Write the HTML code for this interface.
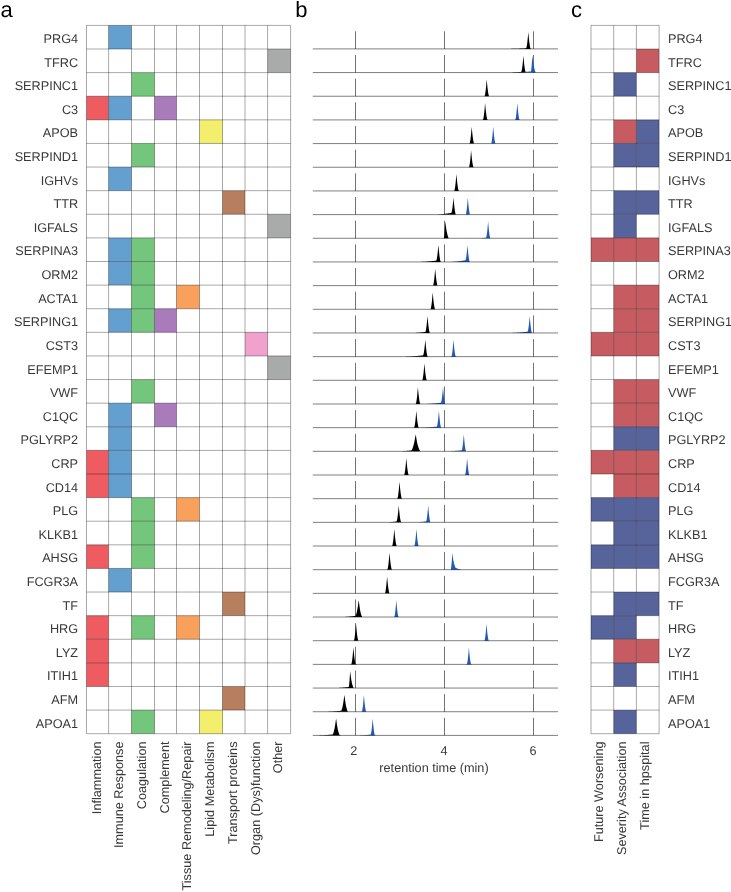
<!DOCTYPE html><html><head><meta charset="utf-8"><style>html,body{margin:0;padding:0;background:#fff;overflow:hidden;}svg{display:block;will-change:transform;}text{font-family:"Liberation Sans",sans-serif;text-rendering:geometricPrecision;}</style></head><body>
<svg width="731" height="892" viewBox="0 0 731 892">
<rect width="731" height="892" fill="#fff"/>
<g font-size="22" fill="#000"><text x="0.5" y="17">a</text><text x="295.3" y="17">b</text><text x="571" y="17">c</text></g>
<rect x="108.60" y="25.40" width="22.90" height="23.61" fill="#64a0cf"/>
<rect x="267.60" y="49.01" width="23.00" height="23.61" fill="#a9abab"/>
<rect x="131.50" y="72.62" width="23.00" height="23.61" fill="#74c67c"/>
<rect x="86.50" y="96.23" width="22.10" height="23.61" fill="#ee5b60"/>
<rect x="108.60" y="96.23" width="22.90" height="23.61" fill="#64a0cf"/>
<rect x="154.50" y="96.23" width="22.00" height="23.61" fill="#a97bbb"/>
<rect x="199.50" y="119.84" width="23.00" height="23.61" fill="#f3ee6c"/>
<rect x="131.50" y="143.45" width="23.00" height="23.61" fill="#74c67c"/>
<rect x="108.60" y="167.06" width="22.90" height="23.61" fill="#64a0cf"/>
<rect x="222.50" y="190.67" width="22.50" height="23.61" fill="#b87f5f"/>
<rect x="267.60" y="214.28" width="23.00" height="23.61" fill="#a9abab"/>
<rect x="108.60" y="237.89" width="22.90" height="23.61" fill="#64a0cf"/>
<rect x="131.50" y="237.89" width="23.00" height="23.61" fill="#74c67c"/>
<rect x="108.60" y="261.50" width="22.90" height="23.61" fill="#64a0cf"/>
<rect x="131.50" y="261.50" width="23.00" height="23.61" fill="#74c67c"/>
<rect x="131.50" y="285.11" width="23.00" height="23.61" fill="#74c67c"/>
<rect x="176.50" y="285.11" width="23.00" height="23.61" fill="#f8a05c"/>
<rect x="108.60" y="308.72" width="22.90" height="23.61" fill="#64a0cf"/>
<rect x="131.50" y="308.72" width="23.00" height="23.61" fill="#74c67c"/>
<rect x="154.50" y="308.72" width="22.00" height="23.61" fill="#a97bbb"/>
<rect x="245.00" y="332.33" width="22.60" height="23.61" fill="#f0a2cc"/>
<rect x="267.60" y="355.94" width="23.00" height="23.61" fill="#a9abab"/>
<rect x="131.50" y="379.55" width="23.00" height="23.61" fill="#74c67c"/>
<rect x="108.60" y="403.16" width="22.90" height="23.61" fill="#64a0cf"/>
<rect x="154.50" y="403.16" width="22.00" height="23.61" fill="#a97bbb"/>
<rect x="108.60" y="426.77" width="22.90" height="23.61" fill="#64a0cf"/>
<rect x="86.50" y="450.38" width="22.10" height="23.61" fill="#ee5b60"/>
<rect x="108.60" y="450.38" width="22.90" height="23.61" fill="#64a0cf"/>
<rect x="86.50" y="473.99" width="22.10" height="23.61" fill="#ee5b60"/>
<rect x="108.60" y="473.99" width="22.90" height="23.61" fill="#64a0cf"/>
<rect x="131.50" y="497.60" width="23.00" height="23.61" fill="#74c67c"/>
<rect x="176.50" y="497.60" width="23.00" height="23.61" fill="#f8a05c"/>
<rect x="131.50" y="521.21" width="23.00" height="23.61" fill="#74c67c"/>
<rect x="86.50" y="544.82" width="22.10" height="23.61" fill="#ee5b60"/>
<rect x="131.50" y="544.82" width="23.00" height="23.61" fill="#74c67c"/>
<rect x="108.60" y="568.43" width="22.90" height="23.61" fill="#64a0cf"/>
<rect x="222.50" y="592.04" width="22.50" height="23.61" fill="#b87f5f"/>
<rect x="86.50" y="615.65" width="22.10" height="23.61" fill="#ee5b60"/>
<rect x="131.50" y="615.65" width="23.00" height="23.61" fill="#74c67c"/>
<rect x="176.50" y="615.65" width="23.00" height="23.61" fill="#f8a05c"/>
<rect x="86.50" y="639.26" width="22.10" height="23.61" fill="#ee5b60"/>
<rect x="86.50" y="662.87" width="22.10" height="23.61" fill="#ee5b60"/>
<rect x="222.50" y="686.48" width="22.50" height="23.61" fill="#b87f5f"/>
<rect x="131.50" y="710.09" width="23.00" height="23.61" fill="#74c67c"/>
<rect x="199.50" y="710.09" width="23.00" height="23.61" fill="#f3ee6c"/>
<path d="M86.50,25.40 V733.70 M108.60,25.40 V733.70 M131.50,25.40 V733.70 M154.50,25.40 V733.70 M176.50,25.40 V733.70 M199.50,25.40 V733.70 M222.50,25.40 V733.70 M245.00,25.40 V733.70 M267.60,25.40 V733.70 M290.60,25.40 V733.70 M86.50,25.40 H290.60 M86.50,49.01 H290.60 M86.50,72.62 H290.60 M86.50,96.23 H290.60 M86.50,119.84 H290.60 M86.50,143.45 H290.60 M86.50,167.06 H290.60 M86.50,190.67 H290.60 M86.50,214.28 H290.60 M86.50,237.89 H290.60 M86.50,261.50 H290.60 M86.50,285.11 H290.60 M86.50,308.72 H290.60 M86.50,332.33 H290.60 M86.50,355.94 H290.60 M86.50,379.55 H290.60 M86.50,403.16 H290.60 M86.50,426.77 H290.60 M86.50,450.38 H290.60 M86.50,473.99 H290.60 M86.50,497.60 H290.60 M86.50,521.21 H290.60 M86.50,544.82 H290.60 M86.50,568.43 H290.60 M86.50,592.04 H290.60 M86.50,615.65 H290.60 M86.50,639.26 H290.60 M86.50,662.87 H290.60 M86.50,686.48 H290.60 M86.50,710.09 H290.60 M86.50,733.70 H290.60" stroke="rgba(0,0,0,0.38)" stroke-width="0.90" fill="none"/>
<rect x="636.40" y="49.01" width="22.70" height="23.61" fill="#c65c61"/>
<rect x="613.70" y="72.62" width="22.70" height="23.61" fill="#57639b"/>
<rect x="613.70" y="119.84" width="22.70" height="23.61" fill="#c65c61"/>
<rect x="636.40" y="119.84" width="22.70" height="23.61" fill="#57639b"/>
<rect x="613.70" y="143.45" width="22.70" height="23.61" fill="#57639b"/>
<rect x="636.40" y="143.45" width="22.70" height="23.61" fill="#57639b"/>
<rect x="613.70" y="190.67" width="22.70" height="23.61" fill="#57639b"/>
<rect x="636.40" y="190.67" width="22.70" height="23.61" fill="#57639b"/>
<rect x="613.70" y="214.28" width="22.70" height="23.61" fill="#57639b"/>
<rect x="591.00" y="237.89" width="22.70" height="23.61" fill="#c65c61"/>
<rect x="613.70" y="237.89" width="22.70" height="23.61" fill="#c65c61"/>
<rect x="636.40" y="237.89" width="22.70" height="23.61" fill="#c65c61"/>
<rect x="613.70" y="285.11" width="22.70" height="23.61" fill="#c65c61"/>
<rect x="636.40" y="285.11" width="22.70" height="23.61" fill="#c65c61"/>
<rect x="613.70" y="308.72" width="22.70" height="23.61" fill="#c65c61"/>
<rect x="636.40" y="308.72" width="22.70" height="23.61" fill="#c65c61"/>
<rect x="591.00" y="332.33" width="22.70" height="23.61" fill="#c65c61"/>
<rect x="613.70" y="332.33" width="22.70" height="23.61" fill="#c65c61"/>
<rect x="636.40" y="332.33" width="22.70" height="23.61" fill="#c65c61"/>
<rect x="613.70" y="379.55" width="22.70" height="23.61" fill="#c65c61"/>
<rect x="636.40" y="379.55" width="22.70" height="23.61" fill="#c65c61"/>
<rect x="613.70" y="403.16" width="22.70" height="23.61" fill="#c65c61"/>
<rect x="636.40" y="403.16" width="22.70" height="23.61" fill="#c65c61"/>
<rect x="613.70" y="426.77" width="22.70" height="23.61" fill="#57639b"/>
<rect x="636.40" y="426.77" width="22.70" height="23.61" fill="#57639b"/>
<rect x="591.00" y="450.38" width="22.70" height="23.61" fill="#c65c61"/>
<rect x="613.70" y="450.38" width="22.70" height="23.61" fill="#c65c61"/>
<rect x="636.40" y="450.38" width="22.70" height="23.61" fill="#c65c61"/>
<rect x="613.70" y="473.99" width="22.70" height="23.61" fill="#c65c61"/>
<rect x="636.40" y="473.99" width="22.70" height="23.61" fill="#c65c61"/>
<rect x="591.00" y="497.60" width="22.70" height="23.61" fill="#57639b"/>
<rect x="613.70" y="497.60" width="22.70" height="23.61" fill="#57639b"/>
<rect x="636.40" y="497.60" width="22.70" height="23.61" fill="#57639b"/>
<rect x="613.70" y="521.21" width="22.70" height="23.61" fill="#57639b"/>
<rect x="636.40" y="521.21" width="22.70" height="23.61" fill="#57639b"/>
<rect x="591.00" y="544.82" width="22.70" height="23.61" fill="#57639b"/>
<rect x="613.70" y="544.82" width="22.70" height="23.61" fill="#57639b"/>
<rect x="636.40" y="544.82" width="22.70" height="23.61" fill="#57639b"/>
<rect x="613.70" y="592.04" width="22.70" height="23.61" fill="#57639b"/>
<rect x="636.40" y="592.04" width="22.70" height="23.61" fill="#57639b"/>
<rect x="591.00" y="615.65" width="22.70" height="23.61" fill="#57639b"/>
<rect x="613.70" y="615.65" width="22.70" height="23.61" fill="#57639b"/>
<rect x="613.70" y="639.26" width="22.70" height="23.61" fill="#c65c61"/>
<rect x="636.40" y="639.26" width="22.70" height="23.61" fill="#c65c61"/>
<rect x="613.70" y="662.87" width="22.70" height="23.61" fill="#57639b"/>
<rect x="613.70" y="710.09" width="22.70" height="23.61" fill="#57639b"/>
<path d="M591.00,25.40 V733.70 M613.70,25.40 V733.70 M636.40,25.40 V733.70 M659.10,25.40 V733.70 M591.00,25.40 H659.10 M591.00,49.01 H659.10 M591.00,72.62 H659.10 M591.00,96.23 H659.10 M591.00,119.84 H659.10 M591.00,143.45 H659.10 M591.00,167.06 H659.10 M591.00,190.67 H659.10 M591.00,214.28 H659.10 M591.00,237.89 H659.10 M591.00,261.50 H659.10 M591.00,285.11 H659.10 M591.00,308.72 H659.10 M591.00,332.33 H659.10 M591.00,355.94 H659.10 M591.00,379.55 H659.10 M591.00,403.16 H659.10 M591.00,426.77 H659.10 M591.00,450.38 H659.10 M591.00,473.99 H659.10 M591.00,497.60 H659.10 M591.00,521.21 H659.10 M591.00,544.82 H659.10 M591.00,568.43 H659.10 M591.00,592.04 H659.10 M591.00,615.65 H659.10 M591.00,639.26 H659.10 M591.00,662.87 H659.10 M591.00,686.48 H659.10 M591.00,710.09 H659.10 M591.00,733.70 H659.10" stroke="rgba(0,0,0,0.38)" stroke-width="0.90" fill="none"/>
<g font-size="12.70" fill="#383838">
<text x="78.1" y="42.95" text-anchor="end">PRG4</text>
<text x="668" y="42.95">PRG4</text>
<text x="78.1" y="66.56" text-anchor="end">TFRC</text>
<text x="668" y="66.56">TFRC</text>
<text x="78.1" y="90.18" text-anchor="end">SERPINC1</text>
<text x="668" y="90.18">SERPINC1</text>
<text x="78.1" y="113.78" text-anchor="end">C3</text>
<text x="668" y="113.78">C3</text>
<text x="78.1" y="137.40" text-anchor="end">APOB</text>
<text x="668" y="137.40">APOB</text>
<text x="78.1" y="161.01" text-anchor="end">SERPIND1</text>
<text x="668" y="161.01">SERPIND1</text>
<text x="78.1" y="184.62" text-anchor="end">IGHVs</text>
<text x="668" y="184.62">IGHVs</text>
<text x="78.1" y="208.23" text-anchor="end">TTR</text>
<text x="668" y="208.23">TTR</text>
<text x="78.1" y="231.84" text-anchor="end">IGFALS</text>
<text x="668" y="231.84">IGFALS</text>
<text x="78.1" y="255.45" text-anchor="end">SERPINA3</text>
<text x="668" y="255.45">SERPINA3</text>
<text x="78.1" y="279.06" text-anchor="end">ORM2</text>
<text x="668" y="279.06">ORM2</text>
<text x="78.1" y="302.67" text-anchor="end">ACTA1</text>
<text x="668" y="302.67">ACTA1</text>
<text x="78.1" y="326.28" text-anchor="end">SERPING1</text>
<text x="668" y="326.28">SERPING1</text>
<text x="78.1" y="349.88" text-anchor="end">CST3</text>
<text x="668" y="349.88">CST3</text>
<text x="78.1" y="373.50" text-anchor="end">EFEMP1</text>
<text x="668" y="373.50">EFEMP1</text>
<text x="78.1" y="397.11" text-anchor="end">VWF</text>
<text x="668" y="397.11">VWF</text>
<text x="78.1" y="420.72" text-anchor="end">C1QC</text>
<text x="668" y="420.72">C1QC</text>
<text x="78.1" y="444.33" text-anchor="end">PGLYRP2</text>
<text x="668" y="444.33">PGLYRP2</text>
<text x="78.1" y="467.94" text-anchor="end">CRP</text>
<text x="668" y="467.94">CRP</text>
<text x="78.1" y="491.55" text-anchor="end">CD14</text>
<text x="668" y="491.55">CD14</text>
<text x="78.1" y="515.15" text-anchor="end">PLG</text>
<text x="668" y="515.15">PLG</text>
<text x="78.1" y="538.77" text-anchor="end">KLKB1</text>
<text x="668" y="538.77">KLKB1</text>
<text x="78.1" y="562.38" text-anchor="end">AHSG</text>
<text x="668" y="562.38">AHSG</text>
<text x="78.1" y="585.99" text-anchor="end">FCGR3A</text>
<text x="668" y="585.99">FCGR3A</text>
<text x="78.1" y="609.60" text-anchor="end">TF</text>
<text x="668" y="609.60">TF</text>
<text x="78.1" y="633.21" text-anchor="end">HRG</text>
<text x="668" y="633.21">HRG</text>
<text x="78.1" y="656.82" text-anchor="end">LYZ</text>
<text x="668" y="656.82">LYZ</text>
<text x="78.1" y="680.43" text-anchor="end">ITIH1</text>
<text x="668" y="680.43">ITIH1</text>
<text x="78.1" y="704.04" text-anchor="end">AFM</text>
<text x="668" y="704.04">AFM</text>
<text x="78.1" y="727.65" text-anchor="end">APOA1</text>
<text x="668" y="727.65">APOA1</text>
</g>
<g font-size="12.70" fill="#383838">
<text transform="translate(100.85,741.5) rotate(-90)" text-anchor="end">Inflammation</text>
<text transform="translate(123.35,741.5) rotate(-90)" text-anchor="end">Immune Response</text>
<text transform="translate(146.30,741.5) rotate(-90)" text-anchor="end">Coagulation</text>
<text transform="translate(168.80,741.5) rotate(-90)" text-anchor="end">Complement</text>
<text transform="translate(191.30,741.5) rotate(-90)" text-anchor="end">Tissue Remodeling/Repair</text>
<text transform="translate(214.30,741.5) rotate(-90)" text-anchor="end">Lipid Metabolism</text>
<text transform="translate(237.05,741.5) rotate(-90)" text-anchor="end">Transport proteins</text>
<text transform="translate(259.60,741.5) rotate(-90)" text-anchor="end">Organ (Dys)function</text>
<text transform="translate(282.40,741.5) rotate(-90)" text-anchor="end">Other</text>
<text transform="translate(603.35,741.5) rotate(-90)" text-anchor="end">Future Worsening</text>
<text transform="translate(626.05,741.5) rotate(-90)" text-anchor="end">Severity Association</text>
<text transform="translate(648.75,741.5) rotate(-90)" text-anchor="end">Time in hpspital</text>
</g>
<path d="M355.50,31.30 V48.90 M444.50,31.30 V48.90 M533.50,31.30 V48.90 M355.50,54.97 V72.57 M444.50,54.97 V72.57 M533.50,54.97 V72.57 M355.50,78.64 V96.24 M444.50,78.64 V96.24 M533.50,78.64 V96.24 M355.50,102.32 V119.92 M444.50,102.32 V119.92 M533.50,102.32 V119.92 M355.50,125.99 V143.59 M444.50,125.99 V143.59 M533.50,125.99 V143.59 M355.50,149.66 V167.26 M444.50,149.66 V167.26 M533.50,149.66 V167.26 M355.50,173.33 V190.93 M444.50,173.33 V190.93 M533.50,173.33 V190.93 M355.50,197.01 V214.61 M444.50,197.01 V214.61 M533.50,197.01 V214.61 M355.50,220.68 V238.28 M444.50,220.68 V238.28 M533.50,220.68 V238.28 M355.50,244.35 V261.95 M444.50,244.35 V261.95 M533.50,244.35 V261.95 M355.50,268.02 V285.62 M444.50,268.02 V285.62 M533.50,268.02 V285.62 M355.50,291.70 V309.30 M444.50,291.70 V309.30 M533.50,291.70 V309.30 M355.50,315.37 V332.97 M444.50,315.37 V332.97 M533.50,315.37 V332.97 M355.50,339.04 V356.64 M444.50,339.04 V356.64 M533.50,339.04 V356.64 M355.50,362.71 V380.31 M444.50,362.71 V380.31 M533.50,362.71 V380.31 M355.50,386.39 V403.99 M444.50,386.39 V403.99 M533.50,386.39 V403.99 M355.50,410.06 V427.66 M444.50,410.06 V427.66 M533.50,410.06 V427.66 M355.50,433.73 V451.33 M444.50,433.73 V451.33 M533.50,433.73 V451.33 M355.50,457.40 V475.00 M444.50,457.40 V475.00 M533.50,457.40 V475.00 M355.50,481.08 V498.68 M444.50,481.08 V498.68 M533.50,481.08 V498.68 M355.50,504.75 V522.35 M444.50,504.75 V522.35 M533.50,504.75 V522.35 M355.50,528.42 V546.02 M444.50,528.42 V546.02 M533.50,528.42 V546.02 M355.50,552.09 V569.69 M444.50,552.09 V569.69 M533.50,552.09 V569.69 M355.50,575.77 V593.37 M444.50,575.77 V593.37 M533.50,575.77 V593.37 M355.50,599.44 V617.04 M444.50,599.44 V617.04 M533.50,599.44 V617.04 M355.50,623.11 V640.71 M444.50,623.11 V640.71 M533.50,623.11 V640.71 M355.50,646.78 V664.38 M444.50,646.78 V664.38 M533.50,646.78 V664.38 M355.50,670.46 V688.06 M444.50,670.46 V688.06 M533.50,670.46 V688.06 M355.50,694.13 V711.73 M444.50,694.13 V711.73 M533.50,694.13 V711.73 M355.50,717.80 V735.40 M444.50,717.80 V735.40 M533.50,717.80 V735.40" stroke="rgba(0,0,0,0.55)" stroke-width="1" fill="none"/>
<path d="M509.00,48.90 L509.00,48.90 L509.20,48.90 L509.40,48.90 L509.60,48.90 L509.80,48.89 L509.99,48.89 L510.19,48.89 L510.39,48.89 L510.59,48.88 L510.79,48.88 L510.99,48.88 L511.19,48.87 L511.39,48.87 L511.58,48.87 L511.78,48.86 L511.98,48.86 L512.18,48.85 L512.38,48.85 L512.58,48.84 L512.78,48.84 L512.98,48.83 L513.17,48.83 L513.37,48.82 L513.57,48.82 L513.77,48.81 L513.97,48.81 L514.17,48.80 L514.37,48.80 L514.57,48.79 L514.77,48.79 L514.96,48.78 L515.16,48.77 L515.36,48.77 L515.56,48.76 L515.76,48.75 L515.96,48.75 L516.16,48.74 L516.36,48.74 L516.55,48.73 L516.75,48.72 L516.95,48.71 L517.15,48.71 L517.35,48.70 L517.55,48.69 L517.75,48.69 L517.95,48.68 L518.14,48.67 L518.34,48.66 L518.54,48.66 L518.74,48.65 L518.94,48.64 L519.14,48.63 L519.34,48.63 L519.54,48.62 L519.74,48.61 L519.93,48.60 L520.13,48.59 L520.33,48.59 L520.53,48.58 L520.73,48.57 L520.93,48.56 L521.13,48.55 L521.33,48.54 L521.52,48.53 L521.72,48.53 L521.92,48.52 L522.12,48.51 L522.32,48.50 L522.52,48.49 L522.72,48.48 L522.92,48.47 L523.12,48.46 L523.31,48.45 L523.51,48.44 L523.71,48.43 L523.91,48.42 L524.11,48.42 L524.31,48.41 L524.51,48.40 L524.71,48.39 L524.90,48.37 L525.10,48.36 L525.30,48.34 L525.50,48.32 L525.70,48.30 L525.90,48.27 L526.10,48.24 L526.30,47.94 L526.49,47.24 L526.69,46.31 L526.89,45.19 L527.09,43.88 L527.29,42.40 L527.49,40.72 L527.69,38.82 L527.89,36.68 L528.09,34.39 L528.28,32.17 L528.30,32.00 L528.48,33.90 L528.68,36.08 L528.88,38.18 L529.08,40.09 L529.28,41.81 L529.48,43.35 L529.68,44.74 L529.87,45.95 L530.07,46.95 L530.27,47.79 L530.47,48.44 L530.67,48.82 L530.87,48.84 L531.07,48.85 L531.27,48.87 L531.46,48.88 L531.66,48.88 L531.86,48.89 L532.06,48.90 L532.26,48.90 L532.26,48.90 Z" fill="#000"/>
<path d="M505.00,72.57 L505.00,72.57 L505.20,72.57 L505.40,72.57 L505.60,72.57 L505.80,72.57 L506.00,72.56 L506.20,72.56 L506.40,72.56 L506.60,72.55 L506.80,72.55 L507.00,72.54 L507.20,72.54 L507.40,72.53 L507.60,72.53 L507.80,72.53 L507.99,72.52 L508.19,72.51 L508.39,72.51 L508.59,72.50 L508.79,72.50 L508.99,72.49 L509.19,72.49 L509.39,72.48 L509.59,72.47 L509.79,72.47 L509.99,72.46 L510.19,72.45 L510.39,72.45 L510.59,72.44 L510.79,72.43 L510.99,72.42 L511.19,72.42 L511.39,72.41 L511.59,72.40 L511.79,72.39 L511.99,72.39 L512.19,72.38 L512.39,72.37 L512.59,72.36 L512.79,72.35 L512.99,72.34 L513.19,72.34 L513.38,72.33 L513.58,72.32 L513.78,72.31 L513.98,72.30 L514.18,72.29 L514.38,72.28 L514.58,72.27 L514.78,72.26 L514.98,72.25 L515.18,72.24 L515.38,72.23 L515.58,72.22 L515.78,72.21 L515.98,72.20 L516.18,72.19 L516.38,72.18 L516.58,72.17 L516.78,72.16 L516.98,72.15 L517.18,72.14 L517.38,72.13 L517.58,72.12 L517.78,72.11 L517.98,72.10 L518.18,72.09 L518.38,72.08 L518.58,72.07 L518.78,72.05 L518.98,72.04 L519.17,72.03 L519.37,72.02 L519.57,72.01 L519.77,72.00 L519.97,71.98 L520.17,71.96 L520.37,71.94 L520.57,71.92 L520.77,71.90 L520.97,71.87 L521.17,71.84 L521.37,71.60 L521.57,70.94 L521.77,70.03 L521.97,68.93 L522.17,67.64 L522.37,66.18 L522.57,64.52 L522.77,62.65 L522.97,60.54 L523.17,58.25 L523.37,56.01 L523.40,55.67 L523.57,57.40 L523.77,59.59 L523.97,61.71 L524.17,63.64 L524.37,65.38 L524.57,66.95 L524.76,68.36 L524.96,69.59 L525.16,70.60 L525.36,71.44 L525.56,72.10 L525.76,72.49 L525.96,72.51 L526.16,72.53 L526.36,72.54 L526.56,72.55 L526.76,72.56 L526.96,72.56 L527.16,72.57 L527.36,72.57 L527.36,72.57 Z" fill="#000"/>
<path d="M506.00,72.57 L506.00,72.57 L506.20,72.57 L506.40,72.57 L506.60,72.57 L506.80,72.57 L507.00,72.56 L507.20,72.56 L507.40,72.56 L507.60,72.55 L507.79,72.55 L507.99,72.55 L508.19,72.54 L508.39,72.54 L508.59,72.54 L508.79,72.53 L508.99,72.53 L509.19,72.52 L509.39,72.52 L509.59,72.51 L509.79,72.51 L509.99,72.50 L510.19,72.50 L510.39,72.49 L510.59,72.49 L510.79,72.48 L510.98,72.47 L511.18,72.47 L511.38,72.46 L511.58,72.46 L511.78,72.45 L511.98,72.44 L512.18,72.44 L512.38,72.43 L512.58,72.42 L512.78,72.42 L512.98,72.41 L513.18,72.40 L513.38,72.39 L513.58,72.39 L513.78,72.38 L513.98,72.37 L514.17,72.36 L514.37,72.36 L514.57,72.35 L514.77,72.34 L514.97,72.33 L515.17,72.33 L515.37,72.32 L515.57,72.31 L515.77,72.30 L515.97,72.29 L516.17,72.28 L516.37,72.28 L516.57,72.27 L516.77,72.26 L516.97,72.25 L517.17,72.24 L517.36,72.23 L517.56,72.22 L517.76,72.21 L517.96,72.20 L518.16,72.20 L518.36,72.19 L518.56,72.18 L518.76,72.17 L518.96,72.16 L519.16,72.15 L519.36,72.14 L519.56,72.13 L519.76,72.12 L519.96,72.11 L520.16,72.10 L520.36,72.09 L520.55,72.08 L520.75,72.07 L520.95,72.06 L521.15,72.05 L521.35,72.04 L521.55,72.03 L521.75,72.02 L521.95,72.01 L522.15,71.99 L522.35,71.98 L522.55,71.97 L522.75,71.96 L522.95,71.95 L523.15,71.94 L523.35,71.93 L523.55,71.92 L523.75,71.91 L523.94,71.90 L524.14,71.88 L524.34,71.87 L524.54,71.86 L524.74,71.85 L524.94,71.84 L525.14,71.83 L525.34,71.82 L525.54,71.80 L525.74,71.79 L525.94,71.78 L526.14,71.77 L526.34,71.76 L526.54,71.74 L526.74,71.73 L526.94,71.72 L527.13,71.71 L527.33,71.70 L527.53,71.68 L527.73,71.67 L527.93,71.66 L528.13,71.65 L528.33,71.63 L528.53,71.62 L528.73,71.61 L528.93,71.60 L529.13,71.58 L529.33,71.57 L529.53,71.56 L529.73,71.54 L529.93,71.53 L530.13,71.52 L530.32,71.49 L530.52,71.47 L530.72,71.44 L530.92,71.39 L531.12,70.73 L531.32,69.32 L531.52,67.43 L531.72,65.09 L531.92,62.23 L532.12,58.82 L532.30,55.67 L532.32,55.80 L532.52,57.21 L532.72,58.71 L532.92,60.20 L533.12,61.65 L533.32,63.03 L533.51,64.32 L533.71,65.53 L533.91,66.57 L534.11,67.47 L534.31,68.31 L534.51,69.09 L534.71,69.80 L534.91,70.45 L535.11,71.04 L535.31,71.55 L535.51,71.98 L535.71,72.32 L535.91,72.50 L536.11,72.51 L536.31,72.52 L536.51,72.53 L536.70,72.54 L536.90,72.54 L537.10,72.55 L537.30,72.55 L537.50,72.56 L537.70,72.56 L537.90,72.57 L538.10,72.57 L538.30,72.57 L538.30,72.57 Z" fill="#2358b4"/>
<path d="M483.10,96.24 L483.10,96.24 L483.30,96.24 L483.50,96.23 L483.70,96.23 L483.90,96.22 L484.09,96.20 L484.29,96.19 L484.49,96.17 L484.69,95.87 L484.89,95.16 L485.09,94.21 L485.29,93.05 L485.49,91.70 L485.69,90.16 L485.89,88.42 L486.08,86.46 L486.28,84.25 L486.48,81.86 L486.68,79.55 L486.70,79.34 L486.88,81.21 L487.08,83.39 L487.28,85.48 L487.48,87.38 L487.68,89.08 L487.87,90.60 L488.07,91.96 L488.27,93.16 L488.47,94.21 L488.67,95.08 L488.87,95.77 L489.07,96.16 L489.27,96.18 L489.47,96.20 L489.67,96.21 L489.86,96.22 L490.06,96.23 L490.26,96.24 L490.46,96.24 L490.66,96.24 L490.66,96.24 Z" fill="#000"/>
<path d="M481.50,119.92 L481.50,119.92 L481.70,119.91 L481.90,119.91 L482.10,119.90 L482.30,119.89 L482.49,119.88 L482.69,119.86 L482.89,119.84 L483.09,119.54 L483.29,118.83 L483.49,117.88 L483.69,116.72 L483.89,115.37 L484.09,113.84 L484.29,112.10 L484.48,110.13 L484.68,107.92 L484.88,105.53 L485.08,103.22 L485.10,103.02 L485.28,104.88 L485.48,107.06 L485.68,109.15 L485.88,111.05 L486.08,112.75 L486.27,114.27 L486.47,115.63 L486.67,116.83 L486.87,117.88 L487.07,118.76 L487.27,119.44 L487.47,119.83 L487.67,119.85 L487.87,119.87 L488.07,119.88 L488.26,119.89 L488.46,119.90 L488.66,119.91 L488.86,119.91 L489.06,119.92 L489.06,119.92 Z" fill="#000"/>
<path d="M513.90,119.92 L513.90,119.92 L514.10,119.91 L514.30,119.91 L514.50,119.90 L514.69,119.89 L514.89,119.87 L515.09,119.85 L515.29,119.81 L515.49,119.26 L515.68,118.38 L515.88,117.26 L516.08,115.92 L516.28,114.37 L516.48,112.60 L516.68,110.59 L516.88,108.30 L517.07,105.80 L517.27,103.34 L517.30,103.02 L517.47,104.88 L517.67,107.18 L517.87,109.38 L518.06,111.35 L518.26,113.11 L518.46,114.67 L518.66,116.05 L518.86,117.26 L519.06,118.29 L519.25,119.13 L519.45,119.70 L519.65,119.85 L519.85,119.86 L520.05,119.88 L520.25,119.89 L520.44,119.90 L520.64,119.91 L520.84,119.91 L521.04,119.92 L521.04,119.92 Z" fill="#2358b4"/>
<path d="M468.10,143.59 L468.10,143.59 L468.30,143.58 L468.50,143.58 L468.70,143.57 L468.90,143.56 L469.09,143.55 L469.29,143.53 L469.49,143.51 L469.69,143.22 L469.89,142.51 L470.09,141.55 L470.29,140.39 L470.49,139.04 L470.69,137.51 L470.89,135.77 L471.08,133.80 L471.28,131.59 L471.48,129.20 L471.68,126.89 L471.70,126.69 L471.88,128.55 L472.08,130.73 L472.28,132.83 L472.48,134.73 L472.68,136.43 L472.87,137.95 L473.07,139.30 L473.27,140.50 L473.47,141.55 L473.67,142.43 L473.87,143.11 L474.07,143.50 L474.27,143.53 L474.47,143.54 L474.67,143.55 L474.86,143.57 L475.06,143.57 L475.26,143.58 L475.46,143.59 L475.66,143.59 L475.66,143.59 Z" fill="#000"/>
<path d="M489.80,143.59 L489.80,143.59 L490.00,143.58 L490.20,143.58 L490.39,143.57 L490.59,143.56 L490.79,143.54 L490.99,143.53 L491.19,143.48 L491.39,142.94 L491.59,142.06 L491.78,140.93 L491.98,139.59 L492.18,138.04 L492.38,136.27 L492.58,134.26 L492.77,131.97 L492.97,129.47 L493.17,127.01 L493.20,126.69 L493.37,128.55 L493.57,130.85 L493.77,133.05 L493.97,135.02 L494.16,136.78 L494.36,138.34 L494.56,139.72 L494.76,140.93 L494.96,141.96 L495.15,142.80 L495.35,143.38 L495.55,143.52 L495.75,143.54 L495.95,143.55 L496.15,143.56 L496.35,143.57 L496.54,143.58 L496.74,143.58 L496.94,143.59 L496.94,143.59 Z" fill="#2358b4"/>
<path d="M467.50,167.26 L467.50,167.26 L467.70,167.26 L467.90,167.25 L468.10,167.24 L468.30,167.23 L468.49,167.22 L468.69,167.21 L468.89,167.18 L469.09,166.89 L469.29,166.18 L469.49,165.22 L469.69,164.06 L469.89,162.72 L470.09,161.18 L470.29,159.44 L470.48,157.47 L470.68,155.26 L470.88,152.88 L471.08,150.57 L471.10,150.36 L471.28,152.22 L471.48,154.41 L471.68,156.50 L471.88,158.40 L472.08,160.10 L472.27,161.62 L472.47,162.97 L472.67,164.18 L472.87,165.22 L473.07,166.10 L473.27,166.78 L473.47,167.17 L473.67,167.20 L473.87,167.21 L474.07,167.23 L474.26,167.24 L474.46,167.25 L474.66,167.25 L474.86,167.26 L475.06,167.26 L475.06,167.26 Z" fill="#000"/>
<path d="M452.80,190.93 L452.80,190.93 L453.00,190.93 L453.20,190.92 L453.40,190.92 L453.60,190.91 L453.79,190.89 L453.99,190.88 L454.19,190.86 L454.39,190.56 L454.59,189.85 L454.79,188.90 L454.99,187.74 L455.19,186.39 L455.39,184.85 L455.59,183.11 L455.78,181.15 L455.98,178.93 L456.18,176.55 L456.38,174.24 L456.40,174.03 L456.58,175.90 L456.78,178.08 L456.98,180.17 L457.18,182.07 L457.38,183.77 L457.57,185.29 L457.77,186.65 L457.97,187.85 L458.17,188.90 L458.37,189.77 L458.57,190.45 L458.77,190.85 L458.97,190.87 L459.17,190.89 L459.37,190.90 L459.56,190.91 L459.76,190.92 L459.96,190.92 L460.16,190.93 L460.36,190.93 L460.36,190.93 Z" fill="#000"/>
<path d="M433.60,214.61 L433.60,214.61 L433.80,214.60 L434.00,214.60 L434.20,214.60 L434.40,214.59 L434.59,214.58 L434.79,214.58 L434.99,214.57 L435.19,214.56 L435.39,214.55 L435.59,214.54 L435.79,214.53 L435.99,214.52 L436.18,214.51 L436.38,214.50 L436.58,214.49 L436.78,214.48 L436.98,214.47 L437.18,214.45 L437.38,214.44 L437.58,214.43 L437.78,214.41 L437.97,214.40 L438.17,214.39 L438.37,214.37 L438.57,214.36 L438.77,214.34 L438.97,214.33 L439.17,214.31 L439.37,214.29 L439.56,214.28 L439.76,214.26 L439.96,214.25 L440.16,214.23 L440.36,214.21 L440.56,214.19 L440.76,214.18 L440.96,214.16 L441.16,214.14 L441.35,214.12 L441.55,214.10 L441.75,214.08 L441.95,214.06 L442.15,214.04 L442.35,214.02 L442.55,214.00 L442.75,213.98 L442.95,213.96 L443.14,213.94 L443.34,213.92 L443.54,213.90 L443.74,213.88 L443.94,213.86 L444.14,213.84 L444.34,213.81 L444.54,213.79 L444.73,213.77 L444.93,213.75 L445.13,213.72 L445.33,213.70 L445.53,213.68 L445.73,213.66 L445.93,213.63 L446.13,213.61 L446.33,213.58 L446.52,213.56 L446.72,213.54 L446.92,213.51 L447.12,213.49 L447.32,213.46 L447.52,213.44 L447.72,213.41 L447.92,213.39 L448.11,213.36 L448.31,213.34 L448.51,213.31 L448.71,213.28 L448.91,213.26 L449.11,213.23 L449.31,213.20 L449.51,213.18 L449.71,213.15 L449.90,213.12 L450.10,213.09 L450.30,213.06 L450.50,213.02 L450.70,212.99 L450.90,212.95 L451.10,212.91 L451.30,212.86 L451.50,212.56 L451.69,211.91 L451.89,211.03 L452.09,209.98 L452.29,208.76 L452.49,207.37 L452.69,205.81 L452.89,204.05 L453.09,202.06 L453.28,199.93 L453.48,197.87 L453.50,197.71 L453.68,199.61 L453.88,201.80 L454.08,203.91 L454.28,205.85 L454.48,207.61 L454.68,209.21 L454.88,210.67 L455.07,211.89 L455.27,212.82 L455.47,213.59 L455.67,214.19 L455.87,214.53 L456.07,214.55 L456.27,214.56 L456.47,214.58 L456.66,214.59 L456.86,214.59 L457.06,214.60 L457.26,214.60 L457.46,214.61 L457.46,214.61 Z" fill="#000"/>
<path d="M464.40,214.61 L464.40,214.61 L464.60,214.60 L464.80,214.60 L465.00,214.59 L465.19,214.58 L465.39,214.56 L465.59,214.54 L465.79,214.50 L465.99,213.95 L466.19,213.07 L466.38,211.95 L466.58,210.61 L466.78,209.06 L466.98,207.29 L467.18,205.28 L467.38,202.99 L467.57,200.49 L467.77,198.03 L467.80,197.71 L467.97,199.57 L468.17,201.87 L468.37,204.06 L468.57,206.04 L468.76,207.80 L468.96,209.36 L469.16,210.74 L469.36,211.95 L469.56,212.98 L469.75,213.81 L469.95,214.39 L470.15,214.54 L470.35,214.55 L470.55,214.57 L470.75,214.58 L470.95,214.59 L471.14,214.60 L471.34,214.60 L471.54,214.61 L471.54,214.61 Z" fill="#2358b4"/>
<path d="M442.95,238.28 L442.95,238.28 L443.15,238.27 L443.34,238.26 L443.54,238.24 L443.74,238.22 L443.93,237.96 L444.13,236.77 L444.32,235.01 L444.52,232.78 L444.72,230.05 L444.91,226.75 L445.11,222.99 L445.20,221.38 L445.31,222.09 L445.50,223.46 L445.70,224.89 L445.90,226.29 L446.09,227.63 L446.29,228.88 L446.49,230.05 L446.68,231.14 L446.88,232.14 L447.07,233.08 L447.27,233.95 L447.47,234.75 L447.66,235.49 L447.86,236.17 L448.06,236.77 L448.25,237.29 L448.45,237.73 L448.65,238.06 L448.84,238.20 L449.04,238.21 L449.24,238.22 L449.43,238.23 L449.63,238.24 L449.82,238.25 L450.02,238.26 L450.22,238.26 L450.41,238.27 L450.61,238.27 L450.81,238.27 L451.00,238.28 L451.20,238.28 L451.20,238.28 Z" fill="#000"/>
<path d="M478.00,238.28 L478.00,238.28 L478.20,238.28 L478.40,238.27 L478.59,238.27 L478.79,238.26 L478.99,238.25 L479.19,238.25 L479.38,238.24 L479.58,238.23 L479.78,238.22 L479.98,238.21 L480.17,238.20 L480.37,238.19 L480.57,238.18 L480.77,238.16 L480.97,238.15 L481.16,238.14 L481.36,238.13 L481.56,238.11 L481.76,238.10 L481.95,238.08 L482.15,238.07 L482.35,238.05 L482.55,238.04 L482.75,238.02 L482.94,238.01 L483.14,237.99 L483.34,237.97 L483.54,237.95 L483.73,237.94 L483.93,237.92 L484.13,237.90 L484.33,237.88 L484.52,237.86 L484.72,237.84 L484.92,237.82 L485.12,237.79 L485.32,237.77 L485.51,237.74 L485.71,237.70 L485.91,237.66 L486.11,237.57 L486.30,237.00 L486.50,236.12 L486.70,235.01 L486.90,233.70 L487.09,232.19 L487.29,230.47 L487.49,228.52 L487.69,226.31 L487.89,223.90 L488.08,221.56 L488.10,221.38 L488.28,223.37 L488.48,225.66 L488.68,227.84 L488.87,229.81 L489.07,231.58 L489.27,233.16 L489.47,234.57 L489.67,235.78 L489.86,236.76 L490.06,237.54 L490.26,238.09 L490.46,238.21 L490.65,238.23 L490.85,238.24 L491.05,238.25 L491.25,238.26 L491.44,238.27 L491.64,238.27 L491.84,238.28 L491.84,238.28 Z" fill="#2358b4"/>
<path d="M419.00,261.95 L419.00,261.95 L419.20,261.95 L419.40,261.95 L419.60,261.94 L419.80,261.94 L420.00,261.93 L420.20,261.93 L420.40,261.92 L420.60,261.92 L420.80,261.91 L421.00,261.90 L421.20,261.89 L421.40,261.89 L421.60,261.88 L421.80,261.87 L421.99,261.86 L422.19,261.85 L422.39,261.84 L422.59,261.83 L422.79,261.82 L422.99,261.81 L423.19,261.80 L423.39,261.79 L423.59,261.78 L423.79,261.77 L423.99,261.76 L424.19,261.74 L424.39,261.73 L424.59,261.72 L424.79,261.71 L424.99,261.69 L425.19,261.68 L425.39,261.67 L425.59,261.65 L425.79,261.64 L425.99,261.63 L426.19,261.61 L426.39,261.60 L426.59,261.58 L426.79,261.57 L426.99,261.56 L427.19,261.54 L427.39,261.53 L427.59,261.51 L427.78,261.49 L427.98,261.48 L428.18,261.46 L428.38,261.45 L428.58,261.43 L428.78,261.41 L428.98,261.40 L429.18,261.38 L429.38,261.36 L429.58,261.35 L429.78,261.33 L429.98,261.31 L430.18,261.30 L430.38,261.28 L430.58,261.26 L430.78,261.24 L430.98,261.22 L431.18,261.21 L431.38,261.19 L431.58,261.17 L431.78,261.15 L431.98,261.13 L432.18,261.11 L432.38,261.09 L432.58,261.07 L432.78,261.05 L432.98,261.03 L433.18,261.01 L433.38,260.99 L433.58,260.97 L433.77,260.95 L433.97,260.93 L434.17,260.91 L434.37,260.89 L434.57,260.87 L434.77,260.85 L434.97,260.83 L435.17,260.80 L435.37,260.77 L435.57,260.74 L435.77,260.71 L435.97,260.67 L436.17,260.63 L436.37,260.39 L436.57,259.75 L436.77,258.88 L436.97,257.81 L437.17,256.57 L437.37,255.16 L437.57,253.56 L437.77,251.76 L437.97,249.73 L438.17,247.53 L438.37,245.38 L438.40,245.05 L438.57,246.78 L438.77,248.98 L438.97,251.10 L439.17,253.05 L439.37,254.81 L439.56,256.41 L439.76,257.86 L439.96,259.10 L440.16,260.06 L440.36,260.87 L440.56,261.50 L440.76,261.87 L440.96,261.89 L441.16,261.91 L441.36,261.92 L441.56,261.93 L441.76,261.94 L441.96,261.94 L442.16,261.95 L442.36,261.95 L442.36,261.95 Z" fill="#000"/>
<path d="M449.60,261.95 L449.60,261.95 L449.80,261.95 L450.00,261.95 L450.20,261.94 L450.39,261.93 L450.59,261.93 L450.79,261.92 L450.99,261.91 L451.19,261.90 L451.39,261.89 L451.59,261.88 L451.78,261.87 L451.98,261.85 L452.18,261.84 L452.38,261.83 L452.58,261.82 L452.78,261.80 L452.98,261.79 L453.17,261.77 L453.37,261.76 L453.57,261.74 L453.77,261.73 L453.97,261.71 L454.17,261.69 L454.36,261.68 L454.56,261.66 L454.76,261.64 L454.96,261.62 L455.16,261.61 L455.36,261.59 L455.56,261.57 L455.75,261.55 L455.95,261.53 L456.15,261.51 L456.35,261.49 L456.55,261.47 L456.75,261.45 L456.95,261.43 L457.14,261.40 L457.34,261.38 L457.54,261.36 L457.74,261.34 L457.94,261.32 L458.14,261.29 L458.34,261.27 L458.53,261.25 L458.73,261.22 L458.93,261.20 L459.13,261.17 L459.33,261.15 L459.53,261.13 L459.73,261.10 L459.92,261.08 L460.12,261.05 L460.32,261.02 L460.52,261.00 L460.72,260.97 L460.92,260.95 L461.11,260.92 L461.31,260.89 L461.51,260.87 L461.71,260.84 L461.91,260.81 L462.11,260.78 L462.31,260.76 L462.50,260.73 L462.70,260.70 L462.90,260.67 L463.10,260.64 L463.30,260.61 L463.50,260.58 L463.70,260.55 L463.89,260.52 L464.09,260.49 L464.29,260.46 L464.49,260.42 L464.69,260.39 L464.89,260.35 L465.09,260.30 L465.28,260.26 L465.48,260.19 L465.68,259.69 L465.88,258.89 L466.08,257.87 L466.28,256.66 L466.48,255.26 L466.67,253.68 L466.87,251.87 L467.07,249.83 L467.27,247.59 L467.47,245.38 L467.50,245.05 L467.67,246.88 L467.86,249.17 L468.06,251.38 L468.26,253.39 L468.46,255.21 L468.66,256.85 L468.86,258.34 L469.06,259.60 L469.25,260.51 L469.45,261.25 L469.65,261.76 L469.85,261.89 L470.05,261.91 L470.25,261.92 L470.45,261.93 L470.64,261.94 L470.84,261.94 L471.04,261.95 L471.24,261.95 L471.24,261.95 Z" fill="#2358b4"/>
<path d="M431.60,285.62 L431.60,285.62 L431.80,285.62 L432.00,285.61 L432.20,285.61 L432.40,285.60 L432.59,285.58 L432.79,285.57 L432.99,285.55 L433.19,285.25 L433.39,284.54 L433.59,283.59 L433.79,282.43 L433.99,281.08 L434.19,279.54 L434.39,277.80 L434.58,275.84 L434.78,273.62 L434.98,271.24 L435.18,268.93 L435.20,268.72 L435.38,270.59 L435.58,272.77 L435.78,274.86 L435.98,276.76 L436.18,278.46 L436.37,279.98 L436.57,281.34 L436.77,282.54 L436.97,283.59 L437.17,284.46 L437.37,285.14 L437.57,285.54 L437.77,285.56 L437.97,285.58 L438.17,285.59 L438.36,285.60 L438.56,285.61 L438.76,285.61 L438.96,285.62 L439.16,285.62 L439.16,285.62 Z" fill="#000"/>
<path d="M429.10,309.30 L429.10,309.30 L429.30,309.29 L429.50,309.29 L429.70,309.28 L429.90,309.27 L430.09,309.26 L430.29,309.24 L430.49,309.22 L430.69,308.92 L430.89,308.21 L431.09,307.26 L431.29,306.10 L431.49,304.75 L431.69,303.21 L431.89,301.48 L432.08,299.51 L432.28,297.30 L432.48,294.91 L432.68,292.60 L432.70,292.40 L432.88,294.26 L433.08,296.44 L433.28,298.53 L433.48,300.43 L433.68,302.13 L433.87,303.65 L434.07,305.01 L434.27,306.21 L434.47,307.26 L434.67,308.14 L434.87,308.82 L435.07,309.21 L435.27,309.23 L435.47,309.25 L435.67,309.26 L435.86,309.27 L436.06,309.28 L436.26,309.29 L436.46,309.29 L436.66,309.30 L436.66,309.30 Z" fill="#000"/>
<path d="M413.00,332.97 L413.00,332.97 L413.20,332.97 L413.40,332.96 L413.60,332.96 L413.79,332.95 L413.99,332.95 L414.19,332.94 L414.39,332.93 L414.59,332.93 L414.79,332.92 L414.98,332.91 L415.18,332.90 L415.38,332.89 L415.58,332.88 L415.78,332.87 L415.98,332.86 L416.18,332.85 L416.37,332.83 L416.57,332.82 L416.77,332.81 L416.97,332.80 L417.17,332.78 L417.37,332.77 L417.57,332.76 L417.76,332.74 L417.96,332.73 L418.16,332.71 L418.36,332.70 L418.56,332.68 L418.76,332.67 L418.95,332.65 L419.15,332.64 L419.35,332.62 L419.55,332.60 L419.75,332.59 L419.95,332.57 L420.15,332.55 L420.34,332.54 L420.54,332.52 L420.74,332.50 L420.94,332.48 L421.14,332.46 L421.34,332.45 L421.54,332.43 L421.73,332.41 L421.93,332.39 L422.13,332.37 L422.33,332.35 L422.53,332.33 L422.73,332.31 L422.92,332.29 L423.12,332.27 L423.32,332.25 L423.52,332.23 L423.72,332.21 L423.92,332.18 L424.12,332.16 L424.31,332.13 L424.51,332.10 L424.71,332.07 L424.91,332.04 L425.11,332.00 L425.31,331.96 L425.51,331.63 L425.70,330.93 L425.90,330.00 L426.10,328.90 L426.30,327.61 L426.50,326.15 L426.70,324.51 L426.89,322.65 L427.09,320.56 L427.29,318.32 L427.49,316.17 L427.50,316.07 L427.69,318.04 L427.89,320.22 L428.09,322.31 L428.28,324.22 L428.48,325.95 L428.68,327.51 L428.88,328.93 L429.08,330.13 L429.28,331.10 L429.48,331.91 L429.67,332.53 L429.87,332.89 L430.07,332.91 L430.27,332.92 L430.47,332.94 L430.67,332.95 L430.86,332.95 L431.06,332.96 L431.26,332.96 L431.46,332.97 L431.46,332.97 Z" fill="#000"/>
<path d="M509.00,332.97 L509.00,332.97 L509.20,332.97 L509.40,332.96 L509.60,332.96 L509.79,332.96 L509.99,332.95 L510.19,332.95 L510.39,332.94 L510.59,332.94 L510.79,332.93 L510.99,332.92 L511.19,332.92 L511.38,332.91 L511.58,332.90 L511.78,332.90 L511.98,332.89 L512.18,332.88 L512.38,332.87 L512.58,332.86 L512.78,332.85 L512.97,332.84 L513.17,332.83 L513.37,332.82 L513.57,332.81 L513.77,332.80 L513.97,332.79 L514.17,332.78 L514.36,332.77 L514.56,332.76 L514.76,332.75 L514.96,332.74 L515.16,332.73 L515.36,332.71 L515.56,332.70 L515.76,332.69 L515.95,332.68 L516.15,332.66 L516.35,332.65 L516.55,332.64 L516.75,332.63 L516.95,332.61 L517.15,332.60 L517.35,332.58 L517.54,332.57 L517.74,332.56 L517.94,332.54 L518.14,332.53 L518.34,332.51 L518.54,332.50 L518.74,332.49 L518.93,332.47 L519.13,332.46 L519.33,332.44 L519.53,332.42 L519.73,332.41 L519.93,332.39 L520.13,332.38 L520.33,332.36 L520.52,332.35 L520.72,332.33 L520.92,332.31 L521.12,332.30 L521.32,332.28 L521.52,332.26 L521.72,332.25 L521.92,332.23 L522.11,332.21 L522.31,332.20 L522.51,332.18 L522.71,332.16 L522.91,332.14 L523.11,332.13 L523.31,332.11 L523.51,332.09 L523.70,332.07 L523.90,332.05 L524.10,332.03 L524.30,332.02 L524.50,332.00 L524.70,331.98 L524.90,331.96 L525.09,331.94 L525.29,331.92 L525.49,331.90 L525.69,331.88 L525.89,331.86 L526.09,331.84 L526.29,331.82 L526.49,331.80 L526.68,331.77 L526.88,331.75 L527.08,331.72 L527.28,331.68 L527.48,331.65 L527.68,331.59 L527.88,331.10 L528.08,330.29 L528.27,329.25 L528.47,328.02 L528.67,326.59 L528.87,324.96 L529.07,323.12 L529.27,321.02 L529.47,318.71 L529.66,316.44 L529.70,316.07 L529.86,317.86 L530.06,320.16 L530.26,322.37 L530.46,324.38 L530.66,326.18 L530.86,327.81 L531.06,329.27 L531.25,330.53 L531.45,331.47 L531.65,332.24 L531.85,332.77 L532.05,332.90 L532.25,332.92 L532.45,332.93 L532.65,332.94 L532.84,332.95 L533.04,332.96 L533.24,332.96 L533.44,332.97 L533.44,332.97 Z" fill="#2358b4"/>
<path d="M405.00,356.64 L405.00,356.64 L405.20,356.64 L405.40,356.64 L405.60,356.63 L405.80,356.63 L405.99,356.63 L406.19,356.62 L406.39,356.61 L406.59,356.61 L406.79,356.60 L406.99,356.60 L407.19,356.59 L407.39,356.58 L407.59,356.57 L407.78,356.57 L407.98,356.56 L408.18,356.55 L408.38,356.54 L408.58,356.53 L408.78,356.52 L408.98,356.51 L409.18,356.50 L409.37,356.49 L409.57,356.48 L409.77,356.47 L409.97,356.46 L410.17,356.45 L410.37,356.44 L410.57,356.43 L410.77,356.41 L410.97,356.40 L411.16,356.39 L411.36,356.38 L411.56,356.37 L411.76,356.35 L411.96,356.34 L412.16,356.33 L412.36,356.31 L412.56,356.30 L412.76,356.29 L412.95,356.27 L413.15,356.26 L413.35,356.25 L413.55,356.23 L413.75,356.22 L413.95,356.20 L414.15,356.19 L414.35,356.17 L414.54,356.16 L414.74,356.14 L414.94,356.13 L415.14,356.11 L415.34,356.10 L415.54,356.08 L415.74,356.06 L415.94,356.05 L416.14,356.03 L416.33,356.02 L416.53,356.00 L416.73,355.98 L416.93,355.97 L417.13,355.95 L417.33,355.93 L417.53,355.91 L417.73,355.90 L417.93,355.88 L418.12,355.86 L418.32,355.84 L418.52,355.83 L418.72,355.81 L418.92,355.79 L419.12,355.77 L419.32,355.75 L419.52,355.73 L419.72,355.72 L419.91,355.70 L420.11,355.68 L420.31,355.66 L420.51,355.64 L420.71,355.62 L420.91,355.60 L421.11,355.58 L421.31,355.56 L421.50,355.54 L421.70,355.52 L421.90,355.50 L422.10,355.47 L422.30,355.44 L422.50,355.41 L422.70,355.38 L422.90,355.35 L423.10,355.31 L423.29,355.01 L423.49,354.34 L423.69,353.45 L423.89,352.37 L424.09,351.11 L424.29,349.69 L424.49,348.08 L424.69,346.27 L424.89,344.23 L425.08,342.03 L425.28,339.91 L425.30,339.74 L425.48,341.64 L425.68,343.82 L425.88,345.93 L426.08,347.86 L426.28,349.60 L426.48,351.18 L426.67,352.62 L426.87,353.84 L427.07,354.79 L427.27,355.59 L427.47,356.21 L427.67,356.56 L427.87,356.58 L428.07,356.60 L428.27,356.61 L428.46,356.62 L428.66,356.63 L428.86,356.63 L429.06,356.64 L429.26,356.64 L429.26,356.64 Z" fill="#000"/>
<path d="M450.10,356.64 L450.10,356.64 L450.30,356.64 L450.50,356.63 L450.70,356.62 L450.89,356.61 L451.09,356.60 L451.29,356.58 L451.49,356.53 L451.69,355.99 L451.88,355.11 L452.08,353.98 L452.28,352.64 L452.48,351.09 L452.68,349.33 L452.88,347.31 L453.08,345.03 L453.27,342.52 L453.47,340.07 L453.50,339.74 L453.67,341.60 L453.87,343.91 L454.07,346.10 L454.26,348.07 L454.46,349.83 L454.66,351.39 L454.86,352.77 L455.06,353.98 L455.26,355.02 L455.46,355.85 L455.65,356.43 L455.85,356.57 L456.05,356.59 L456.25,356.60 L456.45,356.61 L456.64,356.62 L456.84,356.63 L457.04,356.64 L457.24,356.64 L457.24,356.64 Z" fill="#2358b4"/>
<path d="M420.80,380.31 L420.80,380.31 L421.00,380.31 L421.20,380.30 L421.40,380.30 L421.60,380.29 L421.79,380.27 L421.99,380.26 L422.19,380.24 L422.39,379.94 L422.59,379.23 L422.79,378.28 L422.99,377.12 L423.19,375.77 L423.39,374.23 L423.59,372.49 L423.78,370.53 L423.98,368.31 L424.18,365.93 L424.38,363.62 L424.40,363.41 L424.58,365.28 L424.78,367.46 L424.98,369.55 L425.18,371.45 L425.38,373.15 L425.57,374.67 L425.77,376.03 L425.97,377.23 L426.17,378.28 L426.37,379.15 L426.57,379.83 L426.77,380.23 L426.97,380.25 L427.17,380.27 L427.37,380.28 L427.56,380.29 L427.76,380.30 L427.96,380.30 L428.16,380.31 L428.36,380.31 L428.36,380.31 Z" fill="#000"/>
<path d="M414.30,403.99 L414.30,403.99 L414.50,403.98 L414.70,403.98 L414.90,403.97 L415.10,403.96 L415.29,403.95 L415.49,403.93 L415.69,403.91 L415.89,403.61 L416.09,402.90 L416.29,401.95 L416.49,400.79 L416.69,399.44 L416.89,397.90 L417.09,396.17 L417.28,394.20 L417.48,391.99 L417.68,389.60 L417.88,387.29 L417.90,387.09 L418.08,388.95 L418.28,391.13 L418.48,393.22 L418.68,395.12 L418.88,396.82 L419.07,398.34 L419.27,399.70 L419.47,400.90 L419.67,401.95 L419.87,402.83 L420.07,403.51 L420.27,403.90 L420.47,403.92 L420.67,403.94 L420.87,403.95 L421.06,403.96 L421.26,403.97 L421.46,403.98 L421.66,403.98 L421.86,403.99 L421.86,403.99 Z" fill="#000"/>
<path d="M424.00,403.99 L424.00,403.99 L424.20,403.98 L424.40,403.98 L424.60,403.98 L424.80,403.97 L425.00,403.97 L425.20,403.96 L425.40,403.96 L425.60,403.95 L425.80,403.94 L425.99,403.94 L426.19,403.93 L426.39,403.92 L426.59,403.91 L426.79,403.90 L426.99,403.89 L427.19,403.88 L427.39,403.87 L427.59,403.86 L427.79,403.85 L427.99,403.84 L428.19,403.83 L428.39,403.82 L428.59,403.81 L428.79,403.80 L428.99,403.78 L429.19,403.77 L429.39,403.76 L429.59,403.75 L429.78,403.73 L429.98,403.72 L430.18,403.71 L430.38,403.69 L430.58,403.68 L430.78,403.67 L430.98,403.65 L431.18,403.64 L431.38,403.62 L431.58,403.61 L431.78,403.59 L431.98,403.58 L432.18,403.56 L432.38,403.55 L432.58,403.53 L432.78,403.52 L432.98,403.50 L433.18,403.48 L433.38,403.47 L433.57,403.45 L433.77,403.43 L433.97,403.42 L434.17,403.40 L434.37,403.38 L434.57,403.36 L434.77,403.35 L434.97,403.33 L435.17,403.31 L435.37,403.29 L435.57,403.27 L435.77,403.25 L435.97,403.24 L436.17,403.22 L436.37,403.20 L436.57,403.18 L436.77,403.16 L436.97,403.14 L437.17,403.12 L437.36,403.10 L437.56,403.08 L437.76,403.06 L437.96,403.04 L438.16,403.02 L438.36,403.00 L438.56,402.98 L438.76,402.96 L438.96,402.94 L439.16,402.92 L439.36,402.90 L439.56,402.87 L439.76,402.85 L439.96,402.82 L440.16,402.79 L440.36,402.76 L440.56,402.73 L440.76,402.69 L440.96,402.65 L441.15,402.21 L441.35,401.42 L441.55,400.40 L441.75,399.17 L441.95,397.76 L442.15,396.14 L442.35,394.31 L442.55,392.22 L442.75,389.92 L442.95,387.62 L443.00,387.09 L443.15,388.72 L443.35,391.03 L443.55,393.25 L443.75,395.28 L443.95,397.11 L444.15,398.75 L444.35,400.22 L444.55,401.50 L444.75,402.46 L444.94,403.23 L445.14,403.78 L445.34,403.92 L445.54,403.94 L445.74,403.95 L445.94,403.96 L446.14,403.97 L446.34,403.98 L446.54,403.98 L446.74,403.99 L446.74,403.99 Z" fill="#2358b4"/>
<path d="M412.70,427.66 L412.70,427.66 L412.90,427.65 L413.10,427.65 L413.30,427.64 L413.50,427.63 L413.69,427.62 L413.89,427.60 L414.09,427.58 L414.29,427.29 L414.49,426.58 L414.69,425.62 L414.89,424.46 L415.09,423.11 L415.29,421.58 L415.49,419.84 L415.68,417.87 L415.88,415.66 L416.08,413.27 L416.28,410.96 L416.30,410.76 L416.48,412.62 L416.68,414.80 L416.88,416.90 L417.08,418.80 L417.28,420.50 L417.47,422.01 L417.67,423.37 L417.87,424.57 L418.07,425.62 L418.27,426.50 L418.47,427.18 L418.67,427.57 L418.87,427.59 L419.07,427.61 L419.27,427.62 L419.46,427.63 L419.66,427.64 L419.86,427.65 L420.06,427.65 L420.26,427.66 L420.26,427.66 Z" fill="#000"/>
<path d="M419.00,427.66 L419.00,427.66 L419.20,427.66 L419.40,427.66 L419.60,427.65 L419.79,427.65 L419.99,427.65 L420.19,427.64 L420.39,427.64 L420.59,427.63 L420.79,427.63 L420.99,427.62 L421.19,427.61 L421.38,427.61 L421.58,427.60 L421.78,427.60 L421.98,427.59 L422.18,427.58 L422.38,427.57 L422.58,427.57 L422.77,427.56 L422.97,427.55 L423.17,427.54 L423.37,427.54 L423.57,427.53 L423.77,427.52 L423.97,427.51 L424.17,427.50 L424.36,427.49 L424.56,427.48 L424.76,427.47 L424.96,427.46 L425.16,427.45 L425.36,427.44 L425.56,427.43 L425.75,427.42 L425.95,427.41 L426.15,427.40 L426.35,427.39 L426.55,427.38 L426.75,427.37 L426.95,427.36 L427.14,427.34 L427.34,427.33 L427.54,427.32 L427.74,427.31 L427.94,427.30 L428.14,427.29 L428.34,427.27 L428.54,427.26 L428.73,427.25 L428.93,427.24 L429.13,427.22 L429.33,427.21 L429.53,427.20 L429.73,427.18 L429.93,427.17 L430.12,427.16 L430.32,427.14 L430.52,427.13 L430.72,427.12 L430.92,427.10 L431.12,427.09 L431.32,427.07 L431.52,427.06 L431.71,427.05 L431.91,427.03 L432.11,427.02 L432.31,427.00 L432.51,426.99 L432.71,426.97 L432.91,426.96 L433.10,426.94 L433.30,426.93 L433.50,426.91 L433.70,426.90 L433.90,426.88 L434.10,426.87 L434.30,426.85 L434.50,426.83 L434.69,426.82 L434.89,426.80 L435.09,426.79 L435.29,426.77 L435.49,426.75 L435.69,426.73 L435.89,426.71 L436.08,426.69 L436.28,426.66 L436.48,426.63 L436.68,426.60 L436.88,426.54 L437.08,426.04 L437.28,425.22 L437.47,424.16 L437.67,422.91 L437.87,421.46 L438.07,419.80 L438.27,417.92 L438.47,415.78 L438.67,413.44 L438.87,411.13 L438.90,410.76 L439.06,412.56 L439.26,414.86 L439.46,417.06 L439.66,419.07 L439.86,420.86 L440.06,422.48 L440.26,423.93 L440.45,425.17 L440.65,426.13 L440.85,426.91 L441.05,427.46 L441.25,427.59 L441.45,427.61 L441.65,427.62 L441.85,427.63 L442.04,427.64 L442.24,427.65 L442.44,427.65 L442.64,427.66 L442.64,427.66 Z" fill="#2358b4"/>
<path d="M397.50,451.33 L397.50,451.33 L397.70,451.33 L397.90,451.33 L398.10,451.32 L398.30,451.32 L398.50,451.31 L398.70,451.31 L398.90,451.30 L399.10,451.30 L399.29,451.29 L399.49,451.28 L399.69,451.28 L399.89,451.27 L400.09,451.26 L400.29,451.25 L400.49,451.24 L400.69,451.24 L400.89,451.23 L401.09,451.22 L401.29,451.21 L401.49,451.20 L401.69,451.19 L401.89,451.18 L402.09,451.17 L402.29,451.16 L402.48,451.14 L402.68,451.13 L402.88,451.12 L403.08,451.11 L403.28,451.10 L403.48,451.09 L403.68,451.07 L403.88,451.06 L404.08,451.05 L404.28,451.04 L404.48,451.02 L404.68,451.01 L404.88,451.00 L405.08,450.98 L405.28,450.97 L405.48,450.95 L405.67,450.94 L405.87,450.93 L406.07,450.91 L406.27,450.90 L406.47,450.88 L406.67,450.87 L406.87,450.85 L407.07,450.84 L407.27,450.82 L407.47,450.80 L407.67,450.79 L407.87,450.77 L408.07,450.76 L408.27,450.74 L408.47,450.72 L408.67,450.70 L408.87,450.69 L409.06,450.67 L409.26,450.65 L409.46,450.63 L409.66,450.60 L409.86,450.58 L410.06,450.56 L410.26,450.54 L410.46,450.51 L410.66,450.49 L410.86,450.46 L411.06,450.44 L411.26,450.41 L411.46,450.34 L411.66,450.13 L411.86,449.82 L412.06,449.45 L412.25,449.02 L412.45,448.54 L412.65,448.01 L412.85,447.44 L413.05,446.82 L413.25,446.16 L413.45,445.46 L413.65,444.71 L413.85,443.92 L414.05,443.08 L414.25,442.18 L414.45,441.23 L414.65,440.22 L414.85,439.15 L415.05,438.04 L415.25,436.90 L415.45,435.78 L415.64,434.71 L415.70,434.43 L415.84,435.22 L416.04,436.36 L416.24,437.54 L416.44,438.73 L416.64,439.89 L416.84,441.01 L417.04,442.09 L417.24,443.09 L417.44,443.90 L417.64,444.67 L417.84,445.39 L418.04,446.08 L418.24,446.73 L418.44,447.34 L418.64,447.92 L418.83,448.46 L419.03,448.96 L419.23,449.43 L419.43,449.86 L419.63,450.24 L419.83,450.59 L420.03,450.88 L420.23,451.11 L420.43,451.25 L420.63,451.26 L420.83,451.27 L421.03,451.28 L421.23,451.29 L421.43,451.29 L421.63,451.30 L421.83,451.30 L422.02,451.31 L422.22,451.31 L422.42,451.32 L422.62,451.32 L422.82,451.32 L423.02,451.32 L423.22,451.33 L423.42,451.33 L423.62,451.33 L423.62,451.33 Z" fill="#000"/>
<path d="M445.70,451.33 L445.70,451.33 L445.90,451.33 L446.10,451.33 L446.30,451.32 L446.49,451.32 L446.69,451.32 L446.89,451.31 L447.09,451.31 L447.29,451.30 L447.49,451.29 L447.69,451.29 L447.88,451.28 L448.08,451.27 L448.28,451.27 L448.48,451.26 L448.68,451.25 L448.88,451.24 L449.08,451.23 L449.27,451.23 L449.47,451.22 L449.67,451.21 L449.87,451.20 L450.07,451.19 L450.27,451.18 L450.47,451.17 L450.66,451.16 L450.86,451.15 L451.06,451.14 L451.26,451.13 L451.46,451.12 L451.66,451.10 L451.85,451.09 L452.05,451.08 L452.25,451.07 L452.45,451.06 L452.65,451.05 L452.85,451.03 L453.05,451.02 L453.24,451.01 L453.44,451.00 L453.64,450.98 L453.84,450.97 L454.04,450.96 L454.24,450.94 L454.44,450.93 L454.63,450.91 L454.83,450.90 L455.03,450.89 L455.23,450.87 L455.43,450.86 L455.63,450.84 L455.83,450.83 L456.02,450.81 L456.22,450.80 L456.42,450.78 L456.62,450.77 L456.82,450.75 L457.02,450.74 L457.22,450.72 L457.41,450.71 L457.61,450.69 L457.81,450.67 L458.01,450.66 L458.21,450.64 L458.41,450.63 L458.61,450.61 L458.80,450.59 L459.00,450.57 L459.20,450.56 L459.40,450.54 L459.60,450.52 L459.80,450.51 L460.00,450.49 L460.19,450.47 L460.39,450.45 L460.59,450.43 L460.79,450.41 L460.99,450.38 L461.19,450.35 L461.39,450.32 L461.58,450.29 L461.78,450.23 L461.98,449.72 L462.18,448.89 L462.38,447.83 L462.58,446.57 L462.77,445.12 L462.97,443.46 L463.17,441.57 L463.37,439.43 L463.57,437.09 L463.77,434.78 L463.80,434.43 L463.97,436.25 L464.16,438.55 L464.36,440.75 L464.56,442.75 L464.76,444.55 L464.96,446.16 L465.16,447.61 L465.36,448.85 L465.55,449.81 L465.75,450.59 L465.95,451.13 L466.15,451.26 L466.35,451.28 L466.55,451.30 L466.75,451.31 L466.94,451.31 L467.14,451.32 L467.34,451.33 L467.54,451.33 L467.54,451.33 Z" fill="#2358b4"/>
<path d="M402.70,475.00 L402.70,475.00 L402.90,475.00 L403.10,474.99 L403.30,474.98 L403.50,474.98 L403.69,474.96 L403.89,474.95 L404.09,474.93 L404.29,474.63 L404.49,473.92 L404.69,472.97 L404.89,471.81 L405.09,470.46 L405.29,468.92 L405.49,467.18 L405.68,465.22 L405.88,463.00 L406.08,460.62 L406.28,458.31 L406.30,458.10 L406.48,459.96 L406.68,462.15 L406.88,464.24 L407.08,466.14 L407.28,467.84 L407.47,469.36 L407.67,470.72 L407.87,471.92 L408.07,472.97 L408.27,473.84 L408.47,474.52 L408.67,474.92 L408.87,474.94 L409.07,474.96 L409.27,474.97 L409.46,474.98 L409.66,474.99 L409.86,474.99 L410.06,475.00 L410.26,475.00 L410.26,475.00 Z" fill="#000"/>
<path d="M463.70,475.00 L463.70,475.00 L463.90,475.00 L464.10,474.99 L464.30,474.98 L464.49,474.97 L464.69,474.96 L464.89,474.94 L465.09,474.89 L465.29,474.35 L465.49,473.47 L465.68,472.34 L465.88,471.00 L466.08,469.45 L466.28,467.69 L466.48,465.67 L466.68,463.39 L466.87,460.88 L467.07,458.43 L467.10,458.10 L467.27,459.96 L467.47,462.27 L467.67,464.46 L467.87,466.44 L468.06,468.19 L468.26,469.75 L468.46,471.13 L468.66,472.34 L468.86,473.38 L469.06,474.21 L469.25,474.79 L469.45,474.93 L469.65,474.95 L469.85,474.97 L470.05,474.98 L470.25,474.99 L470.44,474.99 L470.64,475.00 L470.84,475.00 L470.84,475.00 Z" fill="#2358b4"/>
<path d="M395.90,498.68 L395.90,498.68 L396.10,498.67 L396.30,498.66 L396.50,498.66 L396.70,498.65 L396.89,498.64 L397.09,498.62 L397.29,498.60 L397.49,498.30 L397.69,497.59 L397.89,496.64 L398.09,495.48 L398.29,494.13 L398.49,492.59 L398.69,490.86 L398.88,488.89 L399.08,486.68 L399.28,484.29 L399.48,481.98 L399.50,481.78 L399.68,483.64 L399.88,485.82 L400.08,487.91 L400.28,489.81 L400.48,491.51 L400.67,493.03 L400.87,494.39 L401.07,495.59 L401.27,496.64 L401.47,497.52 L401.67,498.20 L401.87,498.59 L402.07,498.61 L402.27,498.63 L402.47,498.64 L402.66,498.65 L402.86,498.66 L403.06,498.67 L403.26,498.67 L403.46,498.68 L403.46,498.68 Z" fill="#000"/>
<path d="M384.00,522.35 L384.00,522.35 L384.20,522.35 L384.40,522.34 L384.59,522.34 L384.79,522.34 L384.99,522.33 L385.19,522.33 L385.39,522.32 L385.58,522.31 L385.78,522.31 L385.98,522.30 L386.18,522.29 L386.38,522.28 L386.57,522.27 L386.77,522.27 L386.97,522.26 L387.17,522.25 L387.37,522.24 L387.56,522.23 L387.76,522.22 L387.96,522.21 L388.16,522.20 L388.36,522.19 L388.55,522.18 L388.75,522.16 L388.95,522.15 L389.15,522.14 L389.35,522.13 L389.54,522.12 L389.74,522.10 L389.94,522.09 L390.14,522.08 L390.34,522.07 L390.53,522.05 L390.73,522.04 L390.93,522.02 L391.13,522.01 L391.33,522.00 L391.52,521.98 L391.72,521.97 L391.92,521.95 L392.12,521.94 L392.32,521.92 L392.51,521.91 L392.71,521.89 L392.91,521.88 L393.11,521.86 L393.31,521.84 L393.50,521.83 L393.70,521.81 L393.90,521.80 L394.10,521.78 L394.30,521.76 L394.50,521.75 L394.69,521.73 L394.89,521.71 L395.09,521.69 L395.29,521.67 L395.49,521.65 L395.68,521.62 L395.88,521.60 L396.08,521.57 L396.28,521.53 L396.48,521.50 L396.67,521.26 L396.87,520.62 L397.07,519.76 L397.27,518.72 L397.47,517.50 L397.66,516.12 L397.86,514.55 L398.06,512.79 L398.26,510.80 L398.46,508.64 L398.65,506.51 L398.70,505.45 L398.85,506.98 L399.05,509.11 L399.25,511.18 L399.45,513.08 L399.64,514.81 L399.84,516.36 L400.04,517.77 L400.24,519.02 L400.44,520.01 L400.63,520.86 L400.83,521.54 L401.03,521.98 L401.23,522.06 L401.43,522.10 L401.62,522.13 L401.82,522.17 L402.02,522.19 L402.22,522.22 L402.42,522.25 L402.61,522.27 L402.81,522.28 L403.01,522.30 L403.21,522.31 L403.41,522.33 L403.60,522.34 L403.80,522.34 L404.00,522.35 L404.00,522.35 Z" fill="#000"/>
<path d="M414.00,522.35 L414.00,522.35 L414.20,522.35 L414.40,522.34 L414.60,522.34 L414.80,522.33 L415.00,522.33 L415.20,522.32 L415.40,522.31 L415.59,522.30 L415.79,522.29 L415.99,522.29 L416.19,522.28 L416.39,522.27 L416.59,522.25 L416.79,522.24 L416.99,522.23 L417.19,522.22 L417.39,522.21 L417.59,522.20 L417.79,522.18 L417.99,522.17 L418.19,522.16 L418.39,522.14 L418.58,522.13 L418.78,522.11 L418.98,522.10 L419.18,522.08 L419.38,522.07 L419.58,522.05 L419.78,522.04 L419.98,522.02 L420.18,522.00 L420.38,521.99 L420.58,521.97 L420.78,521.95 L420.98,521.94 L421.18,521.92 L421.38,521.90 L421.57,521.88 L421.77,521.86 L421.97,521.84 L422.17,521.82 L422.37,521.81 L422.57,521.79 L422.77,521.77 L422.97,521.75 L423.17,521.73 L423.37,521.71 L423.57,521.68 L423.77,521.66 L423.97,521.64 L424.17,521.62 L424.37,521.60 L424.56,521.58 L424.76,521.56 L424.96,521.53 L425.16,521.50 L425.36,521.47 L425.56,521.44 L425.76,521.40 L425.96,521.36 L426.16,521.32 L426.36,520.86 L426.56,520.05 L426.76,519.01 L426.96,517.75 L427.16,516.31 L427.36,514.66 L427.55,512.78 L427.75,510.65 L427.95,508.30 L428.15,505.96 L428.20,505.45 L428.35,507.11 L428.55,509.42 L428.75,511.64 L428.95,513.66 L429.15,515.47 L429.35,517.10 L429.55,518.56 L429.75,519.82 L429.95,520.79 L430.15,521.58 L430.35,522.14 L430.54,522.28 L430.74,522.30 L430.94,522.31 L431.14,522.32 L431.34,522.33 L431.54,522.34 L431.74,522.34 L431.94,522.35 L431.94,522.35 Z" fill="#2358b4"/>
<path d="M390.70,546.02 L390.70,546.02 L390.90,546.02 L391.10,546.01 L391.30,546.00 L391.50,545.99 L391.69,545.98 L391.89,545.96 L392.09,545.94 L392.29,545.65 L392.49,544.94 L392.69,543.98 L392.89,542.82 L393.09,541.47 L393.29,539.94 L393.49,538.20 L393.68,536.23 L393.88,534.02 L394.08,531.63 L394.28,529.32 L394.30,529.12 L394.48,530.98 L394.68,533.16 L394.88,535.26 L395.08,537.16 L395.28,538.86 L395.47,540.38 L395.67,541.73 L395.87,542.94 L396.07,543.98 L396.27,544.86 L396.47,545.54 L396.67,545.93 L396.87,545.96 L397.07,545.97 L397.27,545.99 L397.46,546.00 L397.66,546.00 L397.86,546.01 L398.06,546.02 L398.26,546.02 L398.26,546.02 Z" fill="#000"/>
<path d="M413.00,546.02 L413.00,546.02 L413.20,546.02 L413.40,546.01 L413.60,546.00 L413.79,545.99 L413.99,545.98 L414.19,545.96 L414.39,545.91 L414.59,545.37 L414.78,544.49 L414.98,543.36 L415.18,542.02 L415.38,540.47 L415.58,538.70 L415.78,536.69 L415.98,534.41 L416.17,531.90 L416.37,529.45 L416.40,529.12 L416.57,530.98 L416.77,533.28 L416.97,535.48 L417.16,537.45 L417.36,539.21 L417.56,540.77 L417.76,542.15 L417.96,543.36 L418.16,544.39 L418.36,545.23 L418.55,545.81 L418.75,545.95 L418.95,545.97 L419.15,545.98 L419.35,545.99 L419.54,546.00 L419.74,546.01 L419.94,546.02 L420.14,546.02 L420.14,546.02 Z" fill="#2358b4"/>
<path d="M385.90,569.69 L385.90,569.69 L386.10,569.69 L386.30,569.68 L386.50,569.67 L386.70,569.66 L386.89,569.65 L387.09,569.64 L387.29,569.62 L387.49,569.32 L387.69,568.61 L387.89,567.65 L388.09,566.50 L388.29,565.15 L388.49,563.61 L388.69,561.87 L388.88,559.91 L389.08,557.69 L389.28,555.31 L389.48,553.00 L389.50,552.79 L389.68,554.65 L389.88,556.84 L390.08,558.93 L390.28,560.83 L390.48,562.53 L390.67,564.05 L390.87,565.41 L391.07,566.61 L391.27,567.65 L391.47,568.53 L391.67,569.21 L391.87,569.61 L392.07,569.63 L392.27,569.65 L392.47,569.66 L392.66,569.67 L392.86,569.68 L393.06,569.68 L393.26,569.69 L393.46,569.69 L393.46,569.69 Z" fill="#000"/>
<path d="M449.85,569.69 L449.85,569.69 L450.05,569.69 L450.25,569.68 L450.45,569.66 L450.65,569.64 L450.85,569.39 L451.05,568.39 L451.24,566.94 L451.44,565.11 L451.64,562.87 L451.84,560.14 L452.04,557.13 L452.10,552.79 L452.24,553.61 L452.44,554.83 L452.64,556.08 L452.84,557.30 L453.04,558.46 L453.24,559.56 L453.44,560.58 L453.63,561.53 L453.83,562.42 L454.03,563.25 L454.23,564.03 L454.43,564.75 L454.63,565.42 L454.83,566.03 L455.03,566.58 L455.23,567.07 L455.43,567.48 L455.63,567.78 L455.83,567.91 L456.02,568.00 L456.22,568.09 L456.42,568.18 L456.62,568.27 L456.82,568.35 L457.02,568.43 L457.22,568.51 L457.42,568.58 L457.62,568.66 L457.82,568.73 L458.02,568.80 L458.22,568.87 L458.41,568.93 L458.61,568.99 L458.81,569.05 L459.01,569.11 L459.21,569.17 L459.41,569.22 L459.61,569.28 L459.81,569.33 L460.01,569.38 L460.21,569.42 L460.41,569.47 L460.61,569.51 L460.80,569.55 L461.00,569.58 L461.20,569.61 L461.40,569.64 L461.60,569.66 L461.80,569.68 L462.00,569.69 L462.00,569.69 Z" fill="#2358b4"/>
<path d="M383.50,593.37 L383.50,593.37 L383.70,593.36 L383.90,593.35 L384.10,593.35 L384.30,593.34 L384.49,593.32 L384.69,593.31 L384.89,593.29 L385.09,592.99 L385.29,592.28 L385.49,591.33 L385.69,590.17 L385.89,588.82 L386.09,587.28 L386.29,585.55 L386.48,583.58 L386.68,581.37 L386.88,578.98 L387.08,576.67 L387.10,576.47 L387.28,578.33 L387.48,580.51 L387.68,582.60 L387.88,584.50 L388.08,586.20 L388.27,587.72 L388.47,589.08 L388.67,590.28 L388.87,591.33 L389.07,592.21 L389.27,592.89 L389.47,593.28 L389.67,593.30 L389.87,593.32 L390.07,593.33 L390.26,593.34 L390.46,593.35 L390.66,593.36 L390.86,593.36 L391.06,593.37 L391.06,593.37 Z" fill="#000"/>
<path d="M341.60,617.04 L341.60,617.04 L341.80,617.04 L342.00,617.03 L342.20,617.03 L342.39,617.02 L342.59,617.02 L342.79,617.01 L342.99,617.00 L343.19,617.00 L343.39,616.99 L343.59,616.98 L343.78,616.97 L343.98,616.96 L344.18,616.95 L344.38,616.94 L344.58,616.93 L344.78,616.92 L344.98,616.91 L345.18,616.89 L345.37,616.88 L345.57,616.87 L345.77,616.86 L345.97,616.84 L346.17,616.83 L346.37,616.82 L346.57,616.80 L346.76,616.79 L346.96,616.77 L347.16,616.76 L347.36,616.74 L347.56,616.73 L347.76,616.71 L347.96,616.70 L348.15,616.68 L348.35,616.67 L348.55,616.65 L348.75,616.63 L348.95,616.62 L349.15,616.60 L349.35,616.58 L349.54,616.56 L349.74,616.54 L349.94,616.53 L350.14,616.51 L350.34,616.49 L350.54,616.47 L350.74,616.45 L350.94,616.43 L351.13,616.41 L351.33,616.39 L351.53,616.37 L351.73,616.35 L351.93,616.33 L352.13,616.31 L352.33,616.29 L352.52,616.27 L352.72,616.25 L352.92,616.23 L353.12,616.21 L353.32,616.19 L353.52,616.16 L353.72,616.14 L353.91,616.11 L354.11,616.08 L354.31,616.06 L354.51,616.03 L354.71,616.00 L354.91,615.97 L355.11,615.93 L355.30,615.90 L355.50,615.84 L355.70,615.55 L355.90,615.11 L356.10,614.57 L356.30,613.94 L356.50,613.23 L356.70,612.44 L356.89,611.57 L357.09,610.63 L357.29,609.61 L357.49,608.50 L357.69,607.30 L357.89,606.00 L358.09,604.61 L358.28,603.14 L358.48,601.66 L358.68,600.26 L358.70,600.14 L358.88,601.43 L359.08,602.93 L359.28,604.46 L359.48,605.94 L359.67,607.35 L359.87,608.68 L360.07,609.92 L360.27,611.02 L360.47,611.93 L360.67,612.76 L360.87,613.54 L361.06,614.25 L361.26,614.90 L361.46,615.48 L361.66,615.99 L361.86,616.43 L362.06,616.76 L362.26,616.96 L362.46,616.97 L362.65,616.99 L362.85,616.99 L363.05,617.00 L363.25,617.01 L363.45,617.02 L363.65,617.02 L363.85,617.03 L364.04,617.03 L364.24,617.03 L364.44,617.04 L364.64,617.04 L364.64,617.04 Z" fill="#000"/>
<path d="M392.90,617.04 L392.90,617.04 L393.10,617.03 L393.30,617.03 L393.50,617.02 L393.69,617.01 L393.89,616.99 L394.09,616.97 L394.29,616.93 L394.49,616.38 L394.69,615.50 L394.88,614.38 L395.08,613.04 L395.28,611.49 L395.48,609.72 L395.68,607.71 L395.88,605.42 L396.07,602.92 L396.27,600.46 L396.30,600.14 L396.47,602.00 L396.67,604.30 L396.87,606.50 L397.07,608.47 L397.26,610.23 L397.46,611.79 L397.66,613.17 L397.86,614.38 L398.06,615.41 L398.25,616.25 L398.45,616.83 L398.65,616.97 L398.85,616.99 L399.05,617.00 L399.25,617.01 L399.45,617.02 L399.64,617.03 L399.84,617.03 L400.04,617.04 L400.04,617.04 Z" fill="#2358b4"/>
<path d="M352.40,640.71 L352.40,640.71 L352.60,640.71 L352.80,640.70 L353.00,640.69 L353.20,640.68 L353.39,640.67 L353.59,640.65 L353.79,640.63 L353.99,640.34 L354.19,639.63 L354.39,638.67 L354.59,637.51 L354.79,636.16 L354.99,634.63 L355.19,632.89 L355.38,630.92 L355.58,628.71 L355.78,626.32 L355.98,624.01 L356.00,623.81 L356.18,625.67 L356.38,627.85 L356.58,629.95 L356.78,631.85 L356.98,633.55 L357.17,635.07 L357.37,636.42 L357.57,637.63 L357.77,638.67 L357.97,639.55 L358.17,640.23 L358.37,640.62 L358.57,640.65 L358.77,640.66 L358.97,640.68 L359.16,640.69 L359.36,640.69 L359.56,640.70 L359.76,640.71 L359.96,640.71 L359.96,640.71 Z" fill="#000"/>
<path d="M483.10,640.71 L483.10,640.71 L483.30,640.71 L483.50,640.70 L483.70,640.69 L483.89,640.68 L484.09,640.67 L484.29,640.65 L484.49,640.60 L484.69,640.06 L484.88,639.18 L485.08,638.05 L485.28,636.71 L485.48,635.16 L485.68,633.39 L485.88,631.38 L486.08,629.10 L486.27,626.59 L486.47,624.14 L486.50,623.81 L486.67,625.67 L486.87,627.97 L487.07,630.17 L487.26,632.14 L487.46,633.90 L487.66,635.46 L487.86,636.84 L488.06,638.05 L488.26,639.08 L488.46,639.92 L488.65,640.50 L488.85,640.64 L489.05,640.66 L489.25,640.67 L489.45,640.68 L489.64,640.69 L489.84,640.70 L490.04,640.71 L490.24,640.71 L490.24,640.71 Z" fill="#2358b4"/>
<path d="M349.80,664.38 L349.80,664.38 L350.00,664.38 L350.20,664.37 L350.40,664.36 L350.60,664.35 L350.79,664.34 L350.99,664.33 L351.19,664.30 L351.39,664.01 L351.59,663.30 L351.79,662.34 L351.99,661.18 L352.19,659.84 L352.39,658.30 L352.59,656.56 L352.78,654.60 L352.98,652.38 L353.18,650.00 L353.38,647.69 L353.40,647.48 L353.58,649.34 L353.78,651.53 L353.98,653.62 L354.18,655.52 L354.38,657.22 L354.57,658.74 L354.77,660.10 L354.97,661.30 L355.17,662.34 L355.37,663.22 L355.57,663.90 L355.77,664.30 L355.97,664.32 L356.17,664.34 L356.37,664.35 L356.56,664.36 L356.76,664.37 L356.96,664.37 L357.16,664.38 L357.36,664.38 L357.36,664.38 Z" fill="#000"/>
<path d="M465.50,664.38 L465.50,664.38 L465.70,664.38 L465.90,664.37 L466.10,664.36 L466.29,664.35 L466.49,664.34 L466.69,664.32 L466.89,664.27 L467.09,663.73 L467.28,662.85 L467.48,661.72 L467.68,660.38 L467.88,658.83 L468.08,657.07 L468.28,655.05 L468.48,652.77 L468.67,650.26 L468.87,647.81 L468.90,647.48 L469.07,649.34 L469.27,651.65 L469.47,653.84 L469.66,655.82 L469.86,657.57 L470.06,659.13 L470.26,660.51 L470.46,661.72 L470.66,662.76 L470.86,663.59 L471.05,664.17 L471.25,664.31 L471.45,664.33 L471.65,664.34 L471.85,664.36 L472.04,664.37 L472.24,664.37 L472.44,664.38 L472.64,664.38 L472.64,664.38 Z" fill="#2358b4"/>
<path d="M335.00,688.06 L335.00,688.06 L335.20,688.05 L335.40,688.05 L335.60,688.05 L335.80,688.04 L336.00,688.03 L336.19,688.03 L336.39,688.02 L336.59,688.01 L336.79,688.01 L336.99,688.00 L337.19,687.99 L337.39,687.98 L337.59,687.97 L337.79,687.96 L337.99,687.95 L338.18,687.94 L338.38,687.93 L338.58,687.92 L338.78,687.90 L338.98,687.89 L339.18,687.88 L339.38,687.87 L339.58,687.85 L339.78,687.84 L339.98,687.83 L340.18,687.81 L340.37,687.80 L340.57,687.79 L340.77,687.77 L340.97,687.76 L341.17,687.74 L341.37,687.73 L341.57,687.71 L341.77,687.70 L341.97,687.68 L342.17,687.66 L342.37,687.65 L342.56,687.63 L342.76,687.61 L342.96,687.60 L343.16,687.58 L343.36,687.56 L343.56,687.54 L343.76,687.53 L343.96,687.51 L344.16,687.49 L344.36,687.47 L344.55,687.45 L344.75,687.43 L344.95,687.41 L345.15,687.39 L345.35,687.37 L345.55,687.35 L345.75,687.33 L345.95,687.31 L346.15,687.29 L346.35,687.27 L346.55,687.25 L346.74,687.23 L346.94,687.21 L347.14,687.19 L347.34,687.17 L347.54,687.15 L347.74,687.13 L347.94,687.10 L348.14,687.07 L348.34,687.03 L348.54,686.99 L348.73,686.94 L348.93,686.20 L349.13,684.75 L349.33,682.83 L349.53,680.46 L349.73,677.57 L349.93,674.13 L350.10,671.16 L350.13,671.35 L350.33,672.77 L350.53,674.26 L350.73,675.75 L350.92,677.20 L351.12,678.57 L351.32,679.85 L351.52,681.05 L351.72,682.09 L351.92,682.99 L352.12,683.82 L352.32,684.60 L352.52,685.31 L352.72,685.95 L352.92,686.54 L353.11,687.05 L353.31,687.47 L353.51,687.80 L353.71,687.98 L353.91,687.99 L354.11,688.00 L354.31,688.01 L354.51,688.02 L354.71,688.03 L354.91,688.03 L355.10,688.04 L355.30,688.04 L355.50,688.05 L355.70,688.05 L355.90,688.05 L356.10,688.06 L356.10,688.06 Z" fill="#000"/>
<path d="M325.00,711.73 L325.00,711.73 L325.20,711.73 L325.40,711.72 L325.60,711.72 L325.80,711.72 L326.00,711.71 L326.20,711.71 L326.40,711.70 L326.60,711.70 L326.80,711.69 L327.00,711.69 L327.19,711.68 L327.39,711.68 L327.59,711.67 L327.79,711.66 L327.99,711.65 L328.19,711.65 L328.39,711.64 L328.59,711.63 L328.79,711.62 L328.99,711.62 L329.19,711.61 L329.39,711.60 L329.59,711.59 L329.79,711.58 L329.99,711.57 L330.19,711.56 L330.39,711.55 L330.59,711.54 L330.79,711.53 L330.99,711.52 L331.19,711.51 L331.38,711.50 L331.58,711.49 L331.78,711.48 L331.98,711.47 L332.18,711.46 L332.38,711.45 L332.58,711.43 L332.78,711.42 L332.98,711.41 L333.18,711.40 L333.38,711.39 L333.58,711.37 L333.78,711.36 L333.98,711.35 L334.18,711.34 L334.38,711.32 L334.58,711.31 L334.78,711.30 L334.98,711.29 L335.18,711.27 L335.38,711.26 L335.57,711.24 L335.77,711.23 L335.97,711.22 L336.17,711.20 L336.37,711.19 L336.57,711.17 L336.77,711.16 L336.97,711.15 L337.17,711.13 L337.37,711.12 L337.57,711.10 L337.77,711.09 L337.97,711.07 L338.17,711.06 L338.37,711.04 L338.57,711.03 L338.77,711.01 L338.97,710.99 L339.17,710.98 L339.37,710.96 L339.57,710.94 L339.77,710.92 L339.96,710.90 L340.16,710.87 L340.36,710.85 L340.56,710.82 L340.76,710.80 L340.96,710.77 L341.16,710.74 L341.36,710.50 L341.56,710.08 L341.76,709.56 L341.96,708.93 L342.16,708.23 L342.36,707.44 L342.56,706.57 L342.76,705.63 L342.96,704.61 L343.16,703.50 L343.36,702.29 L343.56,700.99 L343.76,699.58 L343.96,698.09 L344.15,696.58 L344.35,695.14 L344.40,694.83 L344.55,695.91 L344.75,697.40 L344.95,698.92 L345.15,700.40 L345.35,701.81 L345.55,703.14 L345.75,704.38 L345.95,705.50 L346.15,706.43 L346.35,707.29 L346.55,708.09 L346.75,708.83 L346.95,709.50 L347.15,710.10 L347.35,710.63 L347.55,711.08 L347.75,711.43 L347.95,711.64 L348.15,711.66 L348.34,711.67 L348.54,711.68 L348.74,711.69 L348.94,711.70 L349.14,711.70 L349.34,711.71 L349.54,711.71 L349.74,711.72 L349.94,711.72 L350.14,711.72 L350.34,711.73 L350.34,711.73 Z" fill="#000"/>
<path d="M360.50,711.73 L360.50,711.73 L360.70,711.72 L360.90,711.72 L361.10,711.71 L361.29,711.70 L361.49,711.68 L361.69,711.66 L361.89,711.62 L362.09,711.07 L362.28,710.19 L362.48,709.07 L362.68,707.73 L362.88,706.18 L363.08,704.41 L363.28,702.40 L363.48,700.11 L363.67,697.61 L363.87,695.15 L363.90,694.83 L364.07,696.69 L364.27,698.99 L364.47,701.19 L364.66,703.16 L364.86,704.92 L365.06,706.48 L365.26,707.86 L365.46,709.07 L365.66,710.10 L365.86,710.94 L366.05,711.52 L366.25,711.66 L366.45,711.68 L366.65,711.69 L366.85,711.70 L367.04,711.71 L367.24,711.72 L367.44,711.72 L367.64,711.73 L367.64,711.73 Z" fill="#2358b4"/>
<path d="M318.00,735.40 L318.00,735.40 L318.20,735.40 L318.40,735.40 L318.60,735.39 L318.79,735.39 L318.99,735.38 L319.19,735.38 L319.39,735.37 L319.59,735.37 L319.79,735.36 L319.99,735.36 L320.19,735.35 L320.38,735.34 L320.58,735.34 L320.78,735.33 L320.98,735.32 L321.18,735.31 L321.38,735.30 L321.58,735.29 L321.77,735.29 L321.97,735.28 L322.17,735.27 L322.37,735.26 L322.57,735.25 L322.77,735.24 L322.97,735.23 L323.17,735.22 L323.36,735.21 L323.56,735.20 L323.76,735.18 L323.96,735.17 L324.16,735.16 L324.36,735.15 L324.56,735.14 L324.75,735.13 L324.95,735.11 L325.15,735.10 L325.35,735.09 L325.55,735.08 L325.75,735.06 L325.95,735.05 L326.15,735.04 L326.34,735.02 L326.54,735.01 L326.74,735.00 L326.94,734.98 L327.14,734.97 L327.34,734.96 L327.54,734.94 L327.73,734.93 L327.93,734.91 L328.13,734.90 L328.33,734.88 L328.53,734.87 L328.73,734.85 L328.93,734.84 L329.13,734.82 L329.32,734.81 L329.52,734.79 L329.72,734.77 L329.92,734.76 L330.12,734.74 L330.32,734.73 L330.52,734.71 L330.71,734.69 L330.91,734.67 L331.11,734.65 L331.31,734.63 L331.51,734.60 L331.71,734.58 L331.91,734.55 L332.11,734.53 L332.30,734.50 L332.50,734.47 L332.70,734.41 L332.90,734.14 L333.10,733.73 L333.30,733.23 L333.50,732.64 L333.69,731.98 L333.89,731.25 L334.09,730.45 L334.29,729.59 L334.49,728.65 L334.69,727.65 L334.89,726.56 L335.09,725.39 L335.28,724.12 L335.48,722.77 L335.68,721.37 L335.88,719.96 L336.08,718.64 L336.10,718.50 L336.28,719.68 L336.48,721.09 L336.67,722.52 L336.87,723.91 L337.07,725.25 L337.27,726.52 L337.47,727.71 L337.67,728.78 L337.87,729.67 L338.07,730.51 L338.26,731.29 L338.46,732.01 L338.66,732.68 L338.86,733.29 L339.06,733.84 L339.26,734.33 L339.46,734.75 L339.65,735.08 L339.85,735.30 L340.05,735.33 L340.25,735.34 L340.45,735.35 L340.65,735.36 L340.85,735.37 L341.05,735.37 L341.24,735.38 L341.44,735.38 L341.64,735.39 L341.84,735.39 L342.04,735.39 L342.24,735.40 L342.44,735.40 L342.44,735.40 Z" fill="#000"/>
<path d="M359.00,735.40 L359.00,735.40 L359.20,735.40 L359.40,735.40 L359.59,735.39 L359.79,735.39 L359.99,735.38 L360.19,735.37 L360.39,735.37 L360.59,735.36 L360.78,735.35 L360.98,735.34 L361.18,735.34 L361.38,735.33 L361.58,735.32 L361.77,735.31 L361.97,735.30 L362.17,735.29 L362.37,735.28 L362.57,735.27 L362.77,735.26 L362.96,735.24 L363.16,735.23 L363.36,735.22 L363.56,735.21 L363.76,735.20 L363.95,735.18 L364.15,735.17 L364.35,735.16 L364.55,735.14 L364.75,735.13 L364.95,735.11 L365.14,735.10 L365.34,735.09 L365.54,735.07 L365.74,735.06 L365.94,735.04 L366.13,735.02 L366.33,735.01 L366.53,734.99 L366.73,734.98 L366.93,734.96 L367.13,734.94 L367.32,734.93 L367.52,734.91 L367.72,734.89 L367.92,734.87 L368.12,734.86 L368.31,734.84 L368.51,734.82 L368.71,734.80 L368.91,734.78 L369.11,734.77 L369.31,734.75 L369.50,734.72 L369.70,734.70 L369.90,734.67 L370.10,734.64 L370.30,734.61 L370.49,734.57 L370.69,734.50 L370.89,733.96 L371.09,733.11 L371.29,732.03 L371.49,730.74 L371.68,729.26 L371.88,727.57 L372.08,725.66 L372.28,723.48 L372.48,721.10 L372.67,718.78 L372.70,718.50 L372.87,720.40 L373.07,722.69 L373.27,724.89 L373.47,726.87 L373.67,728.65 L373.86,730.25 L374.06,731.68 L374.26,732.91 L374.46,733.88 L374.66,734.66 L374.85,735.20 L375.05,735.33 L375.25,735.35 L375.45,735.36 L375.65,735.37 L375.85,735.38 L376.04,735.39 L376.24,735.40 L376.44,735.40 L376.44,735.40 Z" fill="#2358b4"/>
<path d="M312.80,48.90 H558.00 M312.80,72.57 H558.00 M312.80,96.24 H558.00 M312.80,119.92 H558.00 M312.80,143.59 H558.00 M312.80,167.26 H558.00 M312.80,190.93 H558.00 M312.80,214.61 H558.00 M312.80,238.28 H558.00 M312.80,261.95 H558.00 M312.80,285.62 H558.00 M312.80,309.30 H558.00 M312.80,332.97 H558.00 M312.80,356.64 H558.00 M312.80,380.31 H558.00 M312.80,403.99 H558.00 M312.80,427.66 H558.00 M312.80,451.33 H558.00 M312.80,475.00 H558.00 M312.80,498.68 H558.00 M312.80,522.35 H558.00 M312.80,546.02 H558.00 M312.80,569.69 H558.00 M312.80,593.37 H558.00 M312.80,617.04 H558.00 M312.80,640.71 H558.00 M312.80,664.38 H558.00 M312.80,688.06 H558.00 M312.80,711.73 H558.00 M312.80,735.40 H558.00" stroke="rgba(0,0,0,0.5)" stroke-width="1" fill="none"/>
<g font-size="12.70" fill="#383838" text-anchor="middle">
<text x="353.70" y="755">2</text>
<text x="444.00" y="755">4</text>
<text x="533.00" y="755">6</text>
<text x="434" y="772">retention time (min)</text>
</g>
</svg></body></html>
